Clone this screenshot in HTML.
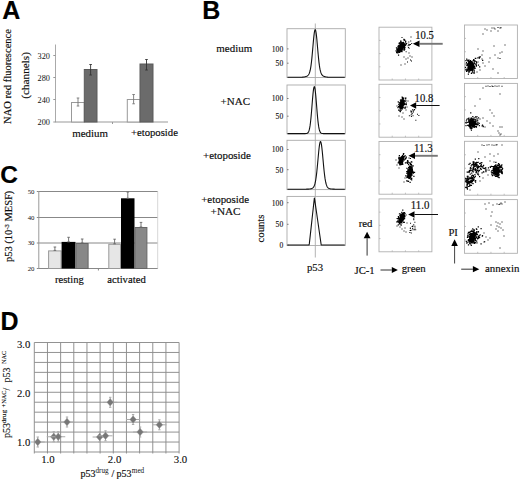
<!DOCTYPE html>
<html><head><meta charset="utf-8"><style>
html,body{margin:0;padding:0;background:#fff;}
body{width:520px;height:480px;overflow:hidden;font-family:"Liberation Serif",serif;}
svg{display:block;}
text{stroke:#000;stroke-width:0.16px;}
text.lb, tspan.lb{stroke:none;}
text.lb2{stroke-width:0.1px;}
</style></head><body>
<svg width="520" height="480" viewBox="0 0 520 480">
<defs><filter id="soft" x="-5%" y="-5%" width="110%" height="110%"><feGaussianBlur stdDeviation="0.3"/></filter></defs>
<rect width="520" height="480" fill="#fff"/>
<text x="2.2" y="18.8" font-size="25" font-family="Liberation Sans, sans-serif" font-weight="bold" text-anchor="start" fill="#000" >A</text>
<text transform="translate(10.7,123.9) rotate(-90)" font-size="10.55" font-family="Liberation Serif, serif" fill="#111">NAO red fluorescence</text>
<text transform="translate(28.8,75.4) rotate(-90)" font-size="11.2" font-family="Liberation Serif, serif" fill="#111" text-anchor="middle">(channels)</text>
<line x1="55.5" y1="44.5" x2="55.5" y2="122" stroke="#aaa" stroke-width="1"/>
<line x1="55" y1="122" x2="168" y2="122" stroke="#999" stroke-width="1"/>
<line x1="53.3" y1="55.5" x2="55.5" y2="55.5" stroke="#999" stroke-width="1"/>
<text x="50" y="58.5" font-size="8.3" font-family="Liberation Serif, serif" text-anchor="end" fill="#111" class="lb">320</text>
<line x1="53.3" y1="77.5" x2="55.5" y2="77.5" stroke="#999" stroke-width="1"/>
<text x="50" y="80.5" font-size="8.3" font-family="Liberation Serif, serif" text-anchor="end" fill="#111" class="lb">280</text>
<line x1="53.3" y1="99.5" x2="55.5" y2="99.5" stroke="#999" stroke-width="1"/>
<text x="50" y="102.5" font-size="8.3" font-family="Liberation Serif, serif" text-anchor="end" fill="#111" class="lb">240</text>
<line x1="53.3" y1="122" x2="55.5" y2="122" stroke="#999" stroke-width="1"/>
<text x="50" y="125" font-size="8.3" font-family="Liberation Serif, serif" text-anchor="end" fill="#111" class="lb">200</text>
<line x1="112.5" y1="122" x2="112.5" y2="124" stroke="#999" stroke-width="1"/>
<rect x="71.5" y="102.5" width="12.799999999999997" height="19.5" fill="#fff" stroke="#999" stroke-width="1"/>
<rect x="84.3" y="69.5" width="12.700000000000003" height="52.5" fill="#6b6b6b" stroke="#5a5a5a" stroke-width="1"/>
<rect x="127.3" y="99.5" width="12.700000000000003" height="22.5" fill="#fff" stroke="#999" stroke-width="1"/>
<rect x="140" y="64" width="13" height="58" fill="#6b6b6b" stroke="#5a5a5a" stroke-width="1"/>
<line x1="78" y1="98" x2="78" y2="106" stroke="#777" stroke-width="0.9"/>
<line x1="76.7" y1="98" x2="79.3" y2="98" stroke="#777" stroke-width="0.9"/>
<line x1="76.7" y1="106" x2="79.3" y2="106" stroke="#777" stroke-width="0.9"/>
<line x1="90.6" y1="64.5" x2="90.6" y2="75" stroke="#333" stroke-width="0.9"/>
<line x1="89.3" y1="64.5" x2="91.89999999999999" y2="64.5" stroke="#333" stroke-width="0.9"/>
<line x1="89.3" y1="75" x2="91.89999999999999" y2="75" stroke="#333" stroke-width="0.9"/>
<line x1="133.6" y1="94.5" x2="133.6" y2="103.8" stroke="#777" stroke-width="0.9"/>
<line x1="132.29999999999998" y1="94.5" x2="134.9" y2="94.5" stroke="#777" stroke-width="0.9"/>
<line x1="132.29999999999998" y1="103.8" x2="134.9" y2="103.8" stroke="#777" stroke-width="0.9"/>
<line x1="146.5" y1="59.5" x2="146.5" y2="70" stroke="#333" stroke-width="0.9"/>
<line x1="145.2" y1="59.5" x2="147.8" y2="59.5" stroke="#333" stroke-width="0.9"/>
<line x1="145.2" y1="70" x2="147.8" y2="70" stroke="#333" stroke-width="0.9"/>
<text x="72.3" y="137.2" font-size="10.9" font-family="Liberation Serif, serif" text-anchor="start" fill="#111" >medium</text>
<text x="130.9" y="136" font-size="10.7" font-family="Liberation Serif, serif" text-anchor="start" fill="#111" >+etoposide</text>
<text x="202.3" y="18.8" font-size="25" font-family="Liberation Sans, sans-serif" font-weight="bold" text-anchor="start" fill="#000" >B</text>
<text x="216.3" y="51.9" font-size="10.95" font-family="Liberation Serif, serif" text-anchor="start" fill="#111" >medium</text>
<text x="220.6" y="104.6" font-size="11" font-family="Liberation Serif, serif" text-anchor="start" fill="#111" >+NAC</text>
<text x="203" y="159.2" font-size="10.9" font-family="Liberation Serif, serif" text-anchor="start" fill="#111" >+etoposide</text>
<text x="201.2" y="203.3" font-size="10.9" font-family="Liberation Serif, serif" text-anchor="start" fill="#111" >+etoposide</text>
<text x="210.6" y="215.1" font-size="11.2" font-family="Liberation Serif, serif" text-anchor="start" fill="#111" >+NAC</text>
<line x1="315.3" y1="23.5" x2="315.3" y2="257.5" stroke="#aaa" stroke-width="0.9"/>
<rect x="287" y="28.7" width="58.3" height="48.8" fill="none" stroke="#aaa" stroke-width="0.9"/>
<rect x="287" y="85" width="58.3" height="48.80000000000001" fill="none" stroke="#aaa" stroke-width="0.9"/>
<rect x="287" y="140.3" width="58.3" height="49.29999999999998" fill="none" stroke="#aaa" stroke-width="0.9"/>
<rect x="287" y="196.4" width="58.3" height="49.099999999999994" fill="none" stroke="#aaa" stroke-width="0.9"/>
<text x="283.2" y="51.7" font-size="7.6" font-family="Liberation Serif, serif" text-anchor="end" fill="#111" class="lb2">100</text>
<line x1="287" y1="48.900000000000006" x2="288.6" y2="48.900000000000006" stroke="#666" stroke-width="0.8"/>
<text x="283.2" y="66.0" font-size="7.6" font-family="Liberation Serif, serif" text-anchor="end" fill="#111" class="lb2">50</text>
<line x1="287" y1="63.2" x2="288.6" y2="63.2" stroke="#666" stroke-width="0.8"/>
<text x="283.2" y="101.3" font-size="7.6" font-family="Liberation Serif, serif" text-anchor="end" fill="#111" class="lb2">100</text>
<line x1="287" y1="98.5" x2="288.6" y2="98.5" stroke="#666" stroke-width="0.8"/>
<text x="283.2" y="119.0" font-size="7.6" font-family="Liberation Serif, serif" text-anchor="end" fill="#111" class="lb2">50</text>
<line x1="287" y1="116.2" x2="288.6" y2="116.2" stroke="#666" stroke-width="0.8"/>
<text x="283.2" y="152.3" font-size="7.6" font-family="Liberation Serif, serif" text-anchor="end" fill="#111" class="lb2">100</text>
<line x1="287" y1="149.5" x2="288.6" y2="149.5" stroke="#666" stroke-width="0.8"/>
<text x="283.2" y="172.5" font-size="7.6" font-family="Liberation Serif, serif" text-anchor="end" fill="#111" class="lb2">50</text>
<line x1="287" y1="169.7" x2="288.6" y2="169.7" stroke="#666" stroke-width="0.8"/>
<text x="283.2" y="205.5" font-size="7.6" font-family="Liberation Serif, serif" text-anchor="end" fill="#111" class="lb2">100</text>
<line x1="287" y1="202.7" x2="288.6" y2="202.7" stroke="#666" stroke-width="0.8"/>
<text x="283.2" y="227.1" font-size="7.6" font-family="Liberation Serif, serif" text-anchor="end" fill="#111" class="lb2">50</text>
<line x1="287" y1="224.29999999999998" x2="288.6" y2="224.29999999999998" stroke="#666" stroke-width="0.8"/>
<text x="283.2" y="247.9" font-size="7.6" font-family="Liberation Serif, serif" text-anchor="end" fill="#111" class="lb2">0</text>
<line x1="287" y1="245.1" x2="288.6" y2="245.1" stroke="#666" stroke-width="0.8"/>
<polyline points="287.50,77.30 287.86,77.30 288.22,77.30 288.57,77.30 288.93,77.30 289.29,77.30 289.65,77.30 290.01,77.30 290.37,77.30 290.72,77.30 291.08,77.30 291.44,77.30 291.80,77.30 292.16,77.30 292.51,77.30 292.87,77.30 293.23,77.30 293.59,77.30 293.95,77.30 294.30,77.30 294.66,77.30 295.02,77.30 295.38,77.30 295.74,77.30 296.10,77.30 296.45,77.30 296.81,77.30 297.17,77.30 297.53,77.30 297.89,77.30 298.24,77.29 298.60,77.29 298.96,77.29 299.32,77.29 299.68,77.28 300.03,77.28 300.39,77.27 300.75,77.26 301.11,77.25 301.47,77.23 301.82,77.22 302.18,77.20 302.54,77.17 302.90,77.14 303.26,77.10 303.62,77.06 303.97,77.01 304.33,76.95 304.69,76.88 305.05,76.80 305.41,76.70 305.76,76.59 306.12,76.47 306.48,76.32 306.84,76.15 307.20,75.94 307.56,75.69 307.91,75.39 308.27,75.01 308.63,74.53 308.99,73.91 309.35,73.11 309.70,72.08 310.06,70.77 310.42,69.12 310.78,67.08 311.14,64.61 311.49,61.70 311.85,58.35 312.21,54.63 312.57,50.62 312.93,46.48 313.29,42.37 313.64,38.51 314.00,35.12 314.36,32.41 314.72,30.54 315.08,29.66 315.43,29.82 315.79,31.01 316.15,33.15 316.51,36.10 316.87,39.65 317.22,43.61 317.58,47.75 317.94,51.87 318.30,55.80 318.66,59.42 319.01,62.64 319.37,65.41 319.73,67.75 320.09,69.66 320.45,71.20 320.81,72.42 321.16,73.37 321.52,74.11 321.88,74.69 322.24,75.14 322.60,75.49 322.95,75.77 323.31,76.01 323.67,76.20 324.03,76.37 324.39,76.51 324.75,76.63 325.10,76.73 325.46,76.82 325.82,76.90 326.18,76.97 326.54,77.02 326.89,77.07 327.25,77.11 327.61,77.15 327.97,77.18 328.33,77.20 328.68,77.22 329.04,77.24 329.40,77.25 329.76,77.26 330.12,77.27 330.48,77.28 330.83,77.28 331.19,77.29 331.55,77.29 331.91,77.29 332.27,77.29 332.62,77.30 332.98,77.30 333.34,77.30 333.70,77.30 334.06,77.30 334.41,77.30 334.77,77.30 335.13,77.30 335.49,77.30 335.85,77.30 336.20,77.30 336.56,77.30 336.92,77.30 337.28,77.30 337.64,77.30 338.00,77.30 338.35,77.30 338.71,77.30 339.07,77.30 339.43,77.30 339.79,77.30 340.14,77.30 340.50,77.30 340.86,77.30 341.22,77.30 341.58,77.30 341.94,77.30 342.29,77.30 342.65,77.30 343.01,77.30 343.37,77.30 343.73,77.30 344.08,77.30 344.44,77.30 344.80,77.30" fill="none" stroke="#111" stroke-width="1.1" stroke-linejoin="round"/>
<polyline points="287.50,133.60 287.86,133.60 288.22,133.60 288.57,133.60 288.93,133.60 289.29,133.60 289.65,133.60 290.01,133.60 290.37,133.60 290.72,133.60 291.08,133.60 291.44,133.60 291.80,133.60 292.16,133.60 292.51,133.60 292.87,133.60 293.23,133.60 293.59,133.60 293.95,133.60 294.30,133.60 294.66,133.60 295.02,133.60 295.38,133.60 295.74,133.60 296.10,133.60 296.45,133.60 296.81,133.60 297.17,133.60 297.53,133.60 297.89,133.60 298.24,133.60 298.60,133.60 298.96,133.60 299.32,133.60 299.68,133.60 300.03,133.60 300.39,133.60 300.75,133.60 301.11,133.60 301.47,133.60 301.82,133.60 302.18,133.60 302.54,133.60 302.90,133.60 303.26,133.60 303.62,133.60 303.97,133.60 304.33,133.60 304.69,133.59 305.05,133.59 305.41,133.58 305.76,133.56 306.12,133.54 306.48,133.49 306.84,133.41 307.20,133.28 307.56,133.07 307.91,132.76 308.27,132.30 308.63,131.64 308.99,130.71 309.35,129.44 309.70,127.77 310.06,125.63 310.42,122.97 310.78,119.79 311.14,116.11 311.49,112.00 311.85,107.59 312.21,103.06 312.57,98.64 312.93,94.59 313.29,91.15 313.64,88.56 314.00,87.01 314.36,86.62 314.72,87.40 315.08,89.31 315.43,92.20 315.79,95.87 316.15,100.08 316.51,104.56 316.87,109.07 317.22,113.40 317.58,117.38 317.94,120.91 318.30,123.91 318.66,126.39 319.01,128.37 319.37,129.90 319.73,131.05 320.09,131.88 320.45,132.48 320.81,132.88 321.16,133.15 321.52,133.33 321.88,133.44 322.24,133.51 322.60,133.55 322.95,133.57 323.31,133.58 323.67,133.59 324.03,133.60 324.39,133.60 324.75,133.60 325.10,133.60 325.46,133.60 325.82,133.60 326.18,133.60 326.54,133.60 326.89,133.60 327.25,133.60 327.61,133.60 327.97,133.60 328.33,133.60 328.68,133.60 329.04,133.60 329.40,133.60 329.76,133.60 330.12,133.60 330.48,133.60 330.83,133.60 331.19,133.60 331.55,133.60 331.91,133.60 332.27,133.60 332.62,133.60 332.98,133.60 333.34,133.60 333.70,133.60 334.06,133.60 334.41,133.60 334.77,133.60 335.13,133.60 335.49,133.60 335.85,133.60 336.20,133.60 336.56,133.60 336.92,133.60 337.28,133.60 337.64,133.60 338.00,133.60 338.35,133.60 338.71,133.60 339.07,133.60 339.43,133.60 339.79,133.60 340.14,133.60 340.50,133.60 340.86,133.60 341.22,133.60 341.58,133.60 341.94,133.60 342.29,133.60 342.65,133.60 343.01,133.60 343.37,133.60 343.73,133.60 344.08,133.60 344.44,133.60 344.80,133.60" fill="none" stroke="#111" stroke-width="1.1" stroke-linejoin="round"/>
<polyline points="287.50,189.20 287.86,189.20 288.22,189.20 288.57,189.20 288.93,189.20 289.29,189.20 289.65,189.20 290.01,189.20 290.37,189.20 290.72,189.20 291.08,189.20 291.44,189.20 291.80,189.20 292.16,189.20 292.51,189.20 292.87,189.20 293.23,189.20 293.59,189.20 293.95,189.20 294.30,189.20 294.66,189.20 295.02,189.20 295.38,189.20 295.74,189.20 296.10,189.20 296.45,189.20 296.81,189.20 297.17,189.20 297.53,189.20 297.89,189.20 298.24,189.20 298.60,189.20 298.96,189.20 299.32,189.20 299.68,189.20 300.03,189.20 300.39,189.20 300.75,189.20 301.11,189.20 301.47,189.20 301.82,189.20 302.18,189.20 302.54,189.20 302.90,189.20 303.26,189.20 303.62,189.20 303.97,189.20 304.33,189.19 304.69,189.19 305.05,189.19 305.41,189.19 305.76,189.18 306.12,189.18 306.48,189.17 306.84,189.16 307.20,189.15 307.56,189.14 307.91,189.12 308.27,189.10 308.63,189.08 308.99,189.05 309.35,189.02 309.70,188.98 310.06,188.93 310.42,188.88 310.78,188.81 311.14,188.72 311.49,188.62 311.85,188.49 312.21,188.32 312.57,188.11 312.93,187.83 313.29,187.46 313.64,186.98 314.00,186.36 314.36,185.55 314.72,184.50 315.08,183.19 315.43,181.54 315.79,179.54 316.15,177.15 316.51,174.36 316.87,171.19 317.22,167.67 317.58,163.90 317.94,159.97 318.30,156.03 318.66,152.25 319.01,148.80 319.37,145.86 319.73,143.58 320.09,142.10 320.45,141.51 320.81,141.84 321.16,143.06 321.52,145.11 321.88,147.88 322.24,151.20 322.60,154.90 322.95,158.81 323.31,162.75 323.67,166.59 324.03,170.19 324.39,173.47 324.75,176.37 325.10,178.88 325.46,181.00 325.82,182.74 326.18,184.15 326.54,185.27 326.89,186.14 327.25,186.82 327.61,187.34 327.97,187.73 328.33,188.03 328.68,188.26 329.04,188.44 329.40,188.58 329.76,188.69 330.12,188.78 330.48,188.86 330.83,188.92 331.19,188.97 331.55,189.01 331.91,189.05 332.27,189.07 332.62,189.10 332.98,189.12 333.34,189.13 333.70,189.15 334.06,189.16 334.41,189.17 334.77,189.18 335.13,189.18 335.49,189.19 335.85,189.19 336.20,189.19 336.56,189.19 336.92,189.20 337.28,189.20 337.64,189.20 338.00,189.20 338.35,189.20 338.71,189.20 339.07,189.20 339.43,189.20 339.79,189.20 340.14,189.20 340.50,189.20 340.86,189.20 341.22,189.20 341.58,189.20 341.94,189.20 342.29,189.20 342.65,189.20 343.01,189.20 343.37,189.20 343.73,189.20 344.08,189.20 344.44,189.20 344.80,189.20" fill="none" stroke="#111" stroke-width="1.1" stroke-linejoin="round"/>
<polyline points="287.50,245.00 287.86,245.00 288.22,245.00 288.57,245.00 288.93,245.00 289.29,245.00 289.65,245.00 290.01,245.00 290.37,245.00 290.72,245.00 291.08,245.00 291.44,245.00 291.80,245.00 292.16,245.00 292.51,245.00 292.87,245.00 293.23,245.00 293.59,245.00 293.95,245.00 294.30,245.00 294.66,245.00 295.02,245.00 295.38,245.00 295.74,245.00 296.10,245.00 296.45,245.00 296.81,245.00 297.17,245.00 297.53,245.00 297.89,245.00 298.24,245.00 298.60,245.00 298.96,245.00 299.32,245.00 299.68,245.00 300.03,245.00 300.39,245.00 300.75,245.00 301.11,245.00 301.47,245.00 301.82,245.00 302.18,245.00 302.54,245.00 302.90,245.00 303.26,245.00 303.62,245.00 303.97,245.00 304.33,245.00 304.69,245.00 305.05,245.00 305.41,245.00 305.76,245.00 306.12,245.00 306.48,245.00 306.84,245.00 307.20,245.00 307.56,245.00 307.91,245.00 308.27,245.00 308.63,245.00 308.99,245.00 309.35,243.67 309.70,240.41 310.06,237.14 310.42,233.88 310.78,230.61 311.14,227.35 311.49,224.09 311.85,220.82 312.21,217.56 312.57,214.29 312.93,211.03 313.29,207.76 313.64,204.50 314.00,201.23 314.36,197.97 314.72,199.81 315.08,202.31 315.43,204.81 315.79,207.30 316.15,209.80 316.51,212.29 316.87,214.79 317.22,217.29 317.58,219.78 317.94,222.28 318.30,224.78 318.66,227.27 319.01,229.77 319.37,232.27 319.73,234.76 320.09,237.26 320.45,239.75 320.81,242.25 321.16,244.75 321.52,245.00 321.88,245.00 322.24,245.00 322.60,245.00 322.95,245.00 323.31,245.00 323.67,245.00 324.03,245.00 324.39,245.00 324.75,245.00 325.10,245.00 325.46,245.00 325.82,245.00 326.18,245.00 326.54,245.00 326.89,245.00 327.25,245.00 327.61,245.00 327.97,245.00 328.33,245.00 328.68,245.00 329.04,245.00 329.40,245.00 329.76,245.00 330.12,245.00 330.48,245.00 330.83,245.00 331.19,245.00 331.55,245.00 331.91,245.00 332.27,245.00 332.62,245.00 332.98,245.00 333.34,245.00 333.70,245.00 334.06,245.00 334.41,245.00 334.77,245.00 335.13,245.00 335.49,245.00 335.85,245.00 336.20,245.00 336.56,245.00 336.92,245.00 337.28,245.00 337.64,245.00 338.00,245.00 338.35,245.00 338.71,245.00 339.07,245.00 339.43,245.00 339.79,245.00 340.14,245.00 340.50,245.00 340.86,245.00 341.22,245.00 341.58,245.00 341.94,245.00 342.29,245.00 342.65,245.00 343.01,245.00 343.37,245.00 343.73,245.00 344.08,245.00 344.44,245.00 344.80,245.00" fill="none" stroke="#111" stroke-width="1.1" stroke-linejoin="round"/>
<text transform="translate(264,228.5) rotate(-90)" font-size="10.7" font-family="Liberation Serif, serif" fill="#111" text-anchor="middle">counts</text>
<text x="307" y="271.3" font-size="10.7" font-family="Liberation Serif, serif" text-anchor="start" fill="#111" >p53</text>
<rect x="379" y="27.2" width="52.9" height="52.8" fill="none" stroke="#b0b0b0" stroke-width="0.9"/>
<line x1="379" y1="40.4" x2="380.5" y2="40.4" stroke="#aaa" stroke-width="0.7"/>
<line x1="392.225" y1="80" x2="392.225" y2="78.5" stroke="#aaa" stroke-width="0.7"/>
<line x1="379" y1="53.599999999999994" x2="380.5" y2="53.599999999999994" stroke="#aaa" stroke-width="0.7"/>
<line x1="405.45" y1="80" x2="405.45" y2="78.5" stroke="#aaa" stroke-width="0.7"/>
<line x1="379" y1="66.8" x2="380.5" y2="66.8" stroke="#aaa" stroke-width="0.7"/>
<line x1="418.675" y1="80" x2="418.675" y2="78.5" stroke="#aaa" stroke-width="0.7"/>
<rect x="379" y="84.3" width="52.9" height="52.89999999999999" fill="none" stroke="#b0b0b0" stroke-width="0.9"/>
<line x1="379" y1="97.52499999999999" x2="380.5" y2="97.52499999999999" stroke="#aaa" stroke-width="0.7"/>
<line x1="392.225" y1="137.2" x2="392.225" y2="135.7" stroke="#aaa" stroke-width="0.7"/>
<line x1="379" y1="110.75" x2="380.5" y2="110.75" stroke="#aaa" stroke-width="0.7"/>
<line x1="405.45" y1="137.2" x2="405.45" y2="135.7" stroke="#aaa" stroke-width="0.7"/>
<line x1="379" y1="123.975" x2="380.5" y2="123.975" stroke="#aaa" stroke-width="0.7"/>
<line x1="418.675" y1="137.2" x2="418.675" y2="135.7" stroke="#aaa" stroke-width="0.7"/>
<rect x="379" y="141.5" width="52.9" height="52.69999999999999" fill="none" stroke="#b0b0b0" stroke-width="0.9"/>
<line x1="379" y1="154.675" x2="380.5" y2="154.675" stroke="#aaa" stroke-width="0.7"/>
<line x1="392.225" y1="194.2" x2="392.225" y2="192.7" stroke="#aaa" stroke-width="0.7"/>
<line x1="379" y1="167.85" x2="380.5" y2="167.85" stroke="#aaa" stroke-width="0.7"/>
<line x1="405.45" y1="194.2" x2="405.45" y2="192.7" stroke="#aaa" stroke-width="0.7"/>
<line x1="379" y1="181.02499999999998" x2="380.5" y2="181.02499999999998" stroke="#aaa" stroke-width="0.7"/>
<line x1="418.675" y1="194.2" x2="418.675" y2="192.7" stroke="#aaa" stroke-width="0.7"/>
<rect x="379" y="198.9" width="52.9" height="52.900000000000006" fill="none" stroke="#b0b0b0" stroke-width="0.9"/>
<line x1="379" y1="212.125" x2="380.5" y2="212.125" stroke="#aaa" stroke-width="0.7"/>
<line x1="392.225" y1="251.8" x2="392.225" y2="250.3" stroke="#aaa" stroke-width="0.7"/>
<line x1="379" y1="225.35000000000002" x2="380.5" y2="225.35000000000002" stroke="#aaa" stroke-width="0.7"/>
<line x1="405.45" y1="251.8" x2="405.45" y2="250.3" stroke="#aaa" stroke-width="0.7"/>
<line x1="379" y1="238.57500000000002" x2="380.5" y2="238.57500000000002" stroke="#aaa" stroke-width="0.7"/>
<line x1="418.675" y1="251.8" x2="418.675" y2="250.3" stroke="#aaa" stroke-width="0.7"/>
<text x="415.3" y="39.3" font-size="11.7" font-family="Liberation Serif, serif" text-anchor="start" fill="#111" textLength="18.6" lengthAdjust="spacingAndGlyphs">10.5</text>
<text x="414.6" y="101.7" font-size="11.7" font-family="Liberation Serif, serif" text-anchor="start" fill="#111" textLength="18.6" lengthAdjust="spacingAndGlyphs">10.8</text>
<text x="414.0" y="151.5" font-size="11.7" font-family="Liberation Serif, serif" text-anchor="start" fill="#111" textLength="18.6" lengthAdjust="spacingAndGlyphs">11.3</text>
<text x="410.8" y="208.7" font-size="11.7" font-family="Liberation Serif, serif" text-anchor="start" fill="#111" textLength="18.6" lengthAdjust="spacingAndGlyphs">11.0</text>
<line x1="442.7" y1="43.8" x2="419.5" y2="43.8" stroke="#777" stroke-width="1.9"/>
<polygon points="412.8,43.8 419.5,40.5 419.5,47.099999999999994" fill="#000"/>
<line x1="439.6" y1="105.5" x2="416.2" y2="105.5" stroke="#111" stroke-width="1"/>
<polygon points="410,105.5 416.2,102.2 416.2,108.8" fill="#000"/>
<line x1="437.8" y1="155.8" x2="415" y2="155.8" stroke="#777" stroke-width="1.9"/>
<polygon points="408.5,155.8 415,152.5 415,159.10000000000002" fill="#000"/>
<line x1="438" y1="214.5" x2="414.5" y2="214.5" stroke="#111" stroke-width="1"/>
<polygon points="408.2,214.5 414.5,211.2 414.5,217.8" fill="#000"/>
<rect x="464.5" y="25" width="52.9" height="53.5" fill="none" stroke="#b0b0b0" stroke-width="0.9"/>
<line x1="464.5" y1="38.375" x2="466" y2="38.375" stroke="#aaa" stroke-width="0.7"/>
<line x1="477.725" y1="78.5" x2="477.725" y2="77.0" stroke="#aaa" stroke-width="0.7"/>
<line x1="464.5" y1="51.75" x2="466" y2="51.75" stroke="#aaa" stroke-width="0.7"/>
<line x1="490.95" y1="78.5" x2="490.95" y2="77.0" stroke="#aaa" stroke-width="0.7"/>
<line x1="464.5" y1="65.125" x2="466" y2="65.125" stroke="#aaa" stroke-width="0.7"/>
<line x1="504.175" y1="78.5" x2="504.175" y2="77.0" stroke="#aaa" stroke-width="0.7"/>
<rect x="464.5" y="83.4" width="52.9" height="53.0" fill="none" stroke="#b0b0b0" stroke-width="0.9"/>
<line x1="464.5" y1="96.65" x2="466" y2="96.65" stroke="#aaa" stroke-width="0.7"/>
<line x1="477.725" y1="136.4" x2="477.725" y2="134.9" stroke="#aaa" stroke-width="0.7"/>
<line x1="464.5" y1="109.9" x2="466" y2="109.9" stroke="#aaa" stroke-width="0.7"/>
<line x1="490.95" y1="136.4" x2="490.95" y2="134.9" stroke="#aaa" stroke-width="0.7"/>
<line x1="464.5" y1="123.15" x2="466" y2="123.15" stroke="#aaa" stroke-width="0.7"/>
<line x1="504.175" y1="136.4" x2="504.175" y2="134.9" stroke="#aaa" stroke-width="0.7"/>
<rect x="464.5" y="141.3" width="52.9" height="53.89999999999998" fill="none" stroke="#b0b0b0" stroke-width="0.9"/>
<line x1="464.5" y1="154.775" x2="466" y2="154.775" stroke="#aaa" stroke-width="0.7"/>
<line x1="477.725" y1="195.2" x2="477.725" y2="193.7" stroke="#aaa" stroke-width="0.7"/>
<line x1="464.5" y1="168.25" x2="466" y2="168.25" stroke="#aaa" stroke-width="0.7"/>
<line x1="490.95" y1="195.2" x2="490.95" y2="193.7" stroke="#aaa" stroke-width="0.7"/>
<line x1="464.5" y1="181.725" x2="466" y2="181.725" stroke="#aaa" stroke-width="0.7"/>
<line x1="504.175" y1="195.2" x2="504.175" y2="193.7" stroke="#aaa" stroke-width="0.7"/>
<rect x="464.5" y="199.6" width="52.9" height="53.70000000000002" fill="none" stroke="#b0b0b0" stroke-width="0.9"/>
<line x1="464.5" y1="213.025" x2="466" y2="213.025" stroke="#aaa" stroke-width="0.7"/>
<line x1="477.725" y1="253.3" x2="477.725" y2="251.8" stroke="#aaa" stroke-width="0.7"/>
<line x1="464.5" y1="226.45" x2="466" y2="226.45" stroke="#aaa" stroke-width="0.7"/>
<line x1="490.95" y1="253.3" x2="490.95" y2="251.8" stroke="#aaa" stroke-width="0.7"/>
<line x1="464.5" y1="239.875" x2="466" y2="239.875" stroke="#aaa" stroke-width="0.7"/>
<line x1="504.175" y1="253.3" x2="504.175" y2="251.8" stroke="#aaa" stroke-width="0.7"/>
<text x="358.7" y="227.1" font-size="10.8" font-family="Liberation Serif, serif" text-anchor="start" fill="#111" >red</text>
<line x1="367.1" y1="255.6" x2="367.1" y2="238.2" stroke="#333" stroke-width="1"/>
<polygon points="367.1,231.8 363.70000000000005,238.2 370.5,238.2" fill="#000"/>
<text x="354.5" y="273.6" font-size="10.7" font-family="Liberation Serif, serif" text-anchor="start" fill="#111" >JC-1</text>
<line x1="380.5" y1="270" x2="391.8" y2="270" stroke="#333" stroke-width="1"/>
<polygon points="397.9,270 391.8,267.0 391.8,273.0" fill="#000"/>
<text x="401.7" y="272.4" font-size="10.8" font-family="Liberation Serif, serif" text-anchor="start" fill="#111" >green</text>
<text x="448.4" y="236" font-size="10.7" font-family="Liberation Serif, serif" text-anchor="start" fill="#111" >PI</text>
<line x1="454.6" y1="263.5" x2="454.6" y2="245.9" stroke="#444" stroke-width="1"/>
<polygon points="454.6,239.2 451.3,245.9 457.90000000000003,245.9" fill="#000"/>
<line x1="461.2" y1="269.2" x2="472.9" y2="269.2" stroke="#444" stroke-width="1.1"/>
<polygon points="479.3,269.2 472.9,266.09999999999997 472.9,272.3" fill="#000"/>
<text x="485" y="271.6" font-size="10.9" font-family="Liberation Serif, serif" text-anchor="start" fill="#111" >annexin</text>
<g filter="url(#soft)">
<ellipse cx="401" cy="47.2" rx="2.4" ry="5.8" transform="rotate(28 401 47.2)" fill="#000"/>
<path d="M397.73 46.67h1.20v1.20h-1.20zM402.91 45.90h1.20v1.20h-1.20zM398.28 45.21h1.20v1.20h-1.20zM399.40 50.42h1.20v1.20h-1.20zM400.48 41.52h1.20v1.20h-1.20zM400.81 48.69h1.20v1.20h-1.20zM401.36 51.00h1.20v1.20h-1.20zM400.68 45.66h1.20v1.20h-1.20zM400.95 42.38h1.20v1.20h-1.20zM400.32 47.13h1.20v1.20h-1.20zM399.92 46.10h1.20v1.20h-1.20zM399.72 48.98h1.20v1.20h-1.20zM401.90 48.23h1.20v1.20h-1.20zM396.24 47.17h1.20v1.20h-1.20zM398.30 44.80h1.20v1.20h-1.20zM397.92 45.29h1.20v1.20h-1.20zM398.74 46.57h1.20v1.20h-1.20zM403.99 43.26h1.20v1.20h-1.20zM398.83 48.39h1.20v1.20h-1.20zM399.64 47.66h1.20v1.20h-1.20zM402.23 43.58h1.20v1.20h-1.20zM402.68 44.59h1.20v1.20h-1.20zM404.37 46.71h1.20v1.20h-1.20zM401.55 47.22h1.20v1.20h-1.20zM402.99 45.59h1.20v1.20h-1.20zM402.28 47.11h1.20v1.20h-1.20zM401.49 49.66h1.20v1.20h-1.20zM401.92 44.31h1.20v1.20h-1.20zM400.92 48.73h1.20v1.20h-1.20zM403.77 46.90h1.20v1.20h-1.20zM400.50 48.66h1.20v1.20h-1.20zM400.53 47.50h1.20v1.20h-1.20zM401.69 44.91h1.20v1.20h-1.20zM399.35 44.47h1.20v1.20h-1.20zM398.91 51.80h1.20v1.20h-1.20zM400.31 50.73h1.20v1.20h-1.20zM400.56 49.45h1.20v1.20h-1.20zM399.44 49.15h1.20v1.20h-1.20zM403.91 47.17h1.20v1.20h-1.20zM396.02 52.04h1.20v1.20h-1.20zM399.22 49.82h1.20v1.20h-1.20zM403.73 43.87h1.20v1.20h-1.20zM399.46 49.08h1.20v1.20h-1.20zM402.07 43.98h1.20v1.20h-1.20zM399.60 47.66h1.20v1.20h-1.20zM401.11 49.79h1.20v1.20h-1.20zM398.27 50.84h1.20v1.20h-1.20zM397.82 48.37h1.20v1.20h-1.20zM402.75 46.69h1.20v1.20h-1.20zM398.89 42.20h1.20v1.20h-1.20zM399.93 48.44h1.20v1.20h-1.20zM404.65 44.88h1.20v1.20h-1.20zM399.34 48.61h1.20v1.20h-1.20zM404.03 39.14h1.20v1.20h-1.20zM397.95 54.46h1.20v1.20h-1.20zM403.59 44.66h1.20v1.20h-1.20zM399.34 46.92h1.20v1.20h-1.20zM398.03 51.51h1.20v1.20h-1.20zM397.20 52.28h1.20v1.20h-1.20zM400.03 44.52h1.20v1.20h-1.20zM399.27 51.64h1.20v1.20h-1.20zM401.00 48.12h1.20v1.20h-1.20zM398.52 42.77h1.20v1.20h-1.20zM400.25 44.41h1.20v1.20h-1.20zM401.93 46.09h1.20v1.20h-1.20zM401.59 47.56h1.20v1.20h-1.20zM399.65 46.67h1.20v1.20h-1.20zM399.71 49.63h1.20v1.20h-1.20zM399.98 45.45h1.20v1.20h-1.20zM395.48 50.34h1.20v1.20h-1.20zM403.13 47.34h1.20v1.20h-1.20zM401.63 42.35h1.20v1.20h-1.20zM400.35 47.39h1.20v1.20h-1.20zM403.66 49.31h1.20v1.20h-1.20zM402.45 48.44h1.20v1.20h-1.20zM397.40 45.72h1.20v1.20h-1.20zM401.34 49.37h1.20v1.20h-1.20zM403.62 39.83h1.20v1.20h-1.20zM402.74 41.68h1.20v1.20h-1.20zM404.91 40.52h1.20v1.20h-1.20zM396.87 49.56h1.20v1.20h-1.20zM405.10 44.42h1.20v1.20h-1.20zM396.38 47.95h1.20v1.20h-1.20zM403.45 44.31h1.20v1.20h-1.20zM400.38 43.84h1.20v1.20h-1.20zM399.52 43.44h1.20v1.20h-1.20zM401.37 49.85h1.20v1.20h-1.20zM403.99 48.17h1.20v1.20h-1.20zM401.79 43.44h1.20v1.20h-1.20zM402.35 42.43h1.20v1.20h-1.20zM396.27 47.17h1.20v1.20h-1.20zM401.44 50.47h1.20v1.20h-1.20zM402.22 48.57h1.20v1.20h-1.20zM399.05 46.23h1.20v1.20h-1.20zM401.60 42.83h1.20v1.20h-1.20zM400.00 40.51h1.20v1.20h-1.20zM400.14 47.06h1.20v1.20h-1.20zM397.26 50.59h1.20v1.20h-1.20zM399.74 48.56h1.20v1.20h-1.20zM403.79 45.15h1.20v1.20h-1.20zM395.86 47.17h1.20v1.20h-1.20zM397.09 50.04h1.20v1.20h-1.20zM399.31 50.01h1.20v1.20h-1.20zM405.10 40.85h1.20v1.20h-1.20zM402.71 45.16h1.20v1.20h-1.20zM399.85 44.58h1.20v1.20h-1.20zM400.24 50.02h1.20v1.20h-1.20zM404.82 42.37h1.20v1.20h-1.20zM403.31 38.73h1.20v1.20h-1.20zM399.24 48.36h1.20v1.20h-1.20zM398.72 46.68h1.20v1.20h-1.20zM399.13 49.92h1.20v1.20h-1.20zM400.38 43.31h1.20v1.20h-1.20zM396.24 51.34h1.20v1.20h-1.20zM402.43 47.19h1.20v1.20h-1.20zM400.59 47.15h1.20v1.20h-1.20zM401.08 46.14h1.20v1.20h-1.20zM401.90 42.42h1.20v1.20h-1.20zM396.61 51.13h1.20v1.20h-1.20zM401.19 47.28h1.20v1.20h-1.20zM399.94 46.60h1.20v1.20h-1.20zM402.05 44.92h1.20v1.20h-1.20zM400.34 47.52h1.20v1.20h-1.20zM400.44 43.49h1.20v1.20h-1.20zM400.47 42.42h1.20v1.20h-1.20zM400.96 44.47h1.20v1.20h-1.20zM399.20 46.35h1.20v1.20h-1.20zM402.17 47.84h1.20v1.20h-1.20zM401.17 44.58h1.20v1.20h-1.20zM398.68 49.30h1.20v1.20h-1.20zM401.62 42.71h1.20v1.20h-1.20zM400.10 42.05h1.20v1.20h-1.20zM396.26 48.76h1.20v1.20h-1.20zM401.39 46.18h1.20v1.20h-1.20zM403.93 45.87h1.20v1.20h-1.20zM400.35 49.75h1.20v1.20h-1.20zM400.36 40.41h1.20v1.20h-1.20zM397.35 48.57h1.20v1.20h-1.20zM404.59 43.96h1.20v1.20h-1.20zM402.79 46.35h1.20v1.20h-1.20z" fill="#000"/>
<path d="M408.21 43.71h1.00v1.00h-1.00zM410.22 40.48h1.00v1.00h-1.00zM408.29 41.39h1.00v1.00h-1.00zM405.63 51.37h1.00v1.00h-1.00zM405.93 42.89h1.00v1.00h-1.00zM403.56 49.81h1.00v1.00h-1.00zM409.98 44.12h1.00v1.00h-1.00zM408.65 47.73h1.00v1.00h-1.00zM406.26 42.66h1.00v1.00h-1.00zM407.60 45.33h1.00v1.00h-1.00zM408.71 44.74h1.00v1.00h-1.00zM409.18 44.15h1.00v1.00h-1.00zM404.33 48.63h1.00v1.00h-1.00zM407.90 46.96h1.00v1.00h-1.00zM405.76 43.63h1.00v1.00h-1.00zM411.21 42.88h1.00v1.00h-1.00z" fill="#000"/>
<path d="M410.50 36.50h1.00v1.00h-1.00zM401.50 37.00h1.00v1.00h-1.00zM396.50 50.50h1.00v1.00h-1.00zM409.50 55.50h1.00v1.00h-1.00zM407.50 57.50h1.00v1.00h-1.00zM410.00 59.50h1.00v1.00h-1.00zM407.00 61.50h1.00v1.00h-1.00zM411.00 60.50h1.00v1.00h-1.00zM404.50 63.50h1.00v1.00h-1.00zM400.50 64.50h1.00v1.00h-1.00zM403.50 56.50h1.00v1.00h-1.00zM408.50 52.50h1.00v1.00h-1.00zM411.50 56.50h1.00v1.00h-1.00zM405.50 58.50h1.00v1.00h-1.00z" fill="#000"/>
<ellipse cx="402" cy="104" rx="2.3" ry="5.2" transform="rotate(15 402 104)" fill="#000"/>
<path d="M403.64 102.67h1.20v1.20h-1.20zM402.21 103.16h1.20v1.20h-1.20zM400.75 107.34h1.20v1.20h-1.20zM399.36 108.20h1.20v1.20h-1.20zM400.84 100.07h1.20v1.20h-1.20zM403.55 100.33h1.20v1.20h-1.20zM399.98 106.12h1.20v1.20h-1.20zM405.02 98.31h1.20v1.20h-1.20zM400.67 109.64h1.20v1.20h-1.20zM403.68 103.19h1.20v1.20h-1.20zM400.61 102.17h1.20v1.20h-1.20zM399.62 102.02h1.20v1.20h-1.20zM401.20 102.85h1.20v1.20h-1.20zM403.65 103.22h1.20v1.20h-1.20zM397.97 106.07h1.20v1.20h-1.20zM399.92 101.47h1.20v1.20h-1.20zM401.46 102.24h1.20v1.20h-1.20zM399.87 102.14h1.20v1.20h-1.20zM405.72 102.48h1.20v1.20h-1.20zM400.20 106.92h1.20v1.20h-1.20zM402.04 106.18h1.20v1.20h-1.20zM404.58 97.53h1.20v1.20h-1.20zM399.79 103.41h1.20v1.20h-1.20zM401.16 107.76h1.20v1.20h-1.20zM402.42 102.86h1.20v1.20h-1.20zM401.65 102.75h1.20v1.20h-1.20zM401.25 105.66h1.20v1.20h-1.20zM401.50 100.65h1.20v1.20h-1.20zM398.98 106.50h1.20v1.20h-1.20zM402.78 107.16h1.20v1.20h-1.20zM402.18 106.46h1.20v1.20h-1.20zM400.83 105.51h1.20v1.20h-1.20zM399.74 102.26h1.20v1.20h-1.20zM399.50 105.38h1.20v1.20h-1.20zM400.48 102.79h1.20v1.20h-1.20zM400.94 107.90h1.20v1.20h-1.20zM400.82 100.04h1.20v1.20h-1.20zM403.77 100.25h1.20v1.20h-1.20zM402.67 101.79h1.20v1.20h-1.20zM402.77 97.55h1.20v1.20h-1.20zM403.07 102.14h1.20v1.20h-1.20zM398.06 109.60h1.20v1.20h-1.20zM402.41 102.48h1.20v1.20h-1.20zM400.21 108.57h1.20v1.20h-1.20zM400.97 104.82h1.20v1.20h-1.20zM403.08 100.74h1.20v1.20h-1.20zM402.05 101.86h1.20v1.20h-1.20zM398.49 105.60h1.20v1.20h-1.20zM402.49 103.95h1.20v1.20h-1.20zM401.54 96.58h1.20v1.20h-1.20zM402.33 103.31h1.20v1.20h-1.20zM398.52 102.42h1.20v1.20h-1.20zM398.78 102.61h1.20v1.20h-1.20zM401.35 104.60h1.20v1.20h-1.20zM401.63 104.05h1.20v1.20h-1.20zM399.75 101.65h1.20v1.20h-1.20zM400.71 102.41h1.20v1.20h-1.20zM401.34 105.50h1.20v1.20h-1.20zM402.27 102.95h1.20v1.20h-1.20zM404.56 107.44h1.20v1.20h-1.20zM398.18 103.91h1.20v1.20h-1.20zM399.65 106.32h1.20v1.20h-1.20zM399.65 102.58h1.20v1.20h-1.20zM401.25 103.03h1.20v1.20h-1.20zM401.95 97.27h1.20v1.20h-1.20zM401.35 106.80h1.20v1.20h-1.20zM402.15 100.13h1.20v1.20h-1.20zM401.27 105.30h1.20v1.20h-1.20zM401.11 103.27h1.20v1.20h-1.20zM404.80 100.49h1.20v1.20h-1.20zM402.06 97.07h1.20v1.20h-1.20zM400.81 100.72h1.20v1.20h-1.20zM400.32 100.74h1.20v1.20h-1.20zM404.69 103.61h1.20v1.20h-1.20zM399.32 110.35h1.20v1.20h-1.20zM402.78 97.84h1.20v1.20h-1.20zM402.90 100.60h1.20v1.20h-1.20zM405.31 100.19h1.20v1.20h-1.20zM401.76 98.01h1.20v1.20h-1.20zM402.44 100.21h1.20v1.20h-1.20zM401.61 102.17h1.20v1.20h-1.20zM399.53 106.12h1.20v1.20h-1.20zM402.97 104.03h1.20v1.20h-1.20zM400.75 99.57h1.20v1.20h-1.20zM399.83 111.15h1.20v1.20h-1.20zM401.28 100.69h1.20v1.20h-1.20zM401.12 99.58h1.20v1.20h-1.20zM399.88 102.29h1.20v1.20h-1.20zM403.89 104.06h1.20v1.20h-1.20zM401.89 98.01h1.20v1.20h-1.20zM401.79 103.41h1.20v1.20h-1.20zM400.20 99.36h1.20v1.20h-1.20zM400.46 106.61h1.20v1.20h-1.20zM402.31 104.35h1.20v1.20h-1.20zM400.56 104.27h1.20v1.20h-1.20zM399.52 110.32h1.20v1.20h-1.20zM399.75 101.70h1.20v1.20h-1.20zM403.83 103.14h1.20v1.20h-1.20zM403.91 103.92h1.20v1.20h-1.20zM401.97 102.29h1.20v1.20h-1.20zM399.83 99.66h1.20v1.20h-1.20zM404.70 106.49h1.20v1.20h-1.20zM401.64 106.72h1.20v1.20h-1.20zM401.52 106.92h1.20v1.20h-1.20zM401.13 102.56h1.20v1.20h-1.20zM403.41 102.74h1.20v1.20h-1.20zM399.28 102.06h1.20v1.20h-1.20zM399.93 105.10h1.20v1.20h-1.20zM401.05 99.68h1.20v1.20h-1.20zM399.50 108.20h1.20v1.20h-1.20zM401.18 103.89h1.20v1.20h-1.20zM401.16 104.35h1.20v1.20h-1.20zM401.82 108.28h1.20v1.20h-1.20zM397.38 106.97h1.20v1.20h-1.20zM401.67 102.38h1.20v1.20h-1.20zM405.71 103.98h1.20v1.20h-1.20zM403.95 107.39h1.20v1.20h-1.20zM399.19 104.48h1.20v1.20h-1.20zM402.79 103.34h1.20v1.20h-1.20zM397.65 101.22h1.20v1.20h-1.20z" fill="#000"/>
<path d="M412.78 109.78h1.00v1.00h-1.00zM416.98 113.85h1.00v1.00h-1.00zM411.77 112.71h1.00v1.00h-1.00zM411.16 110.77h1.00v1.00h-1.00zM412.52 115.21h1.00v1.00h-1.00zM411.36 113.45h1.00v1.00h-1.00zM408.87 115.37h1.00v1.00h-1.00zM410.59 114.49h1.00v1.00h-1.00zM410.70 111.69h1.00v1.00h-1.00zM413.81 109.56h1.00v1.00h-1.00zM418.36 114.89h1.00v1.00h-1.00zM412.81 111.22h1.00v1.00h-1.00zM415.35 119.85h1.00v1.00h-1.00zM414.11 109.00h1.00v1.00h-1.00zM410.90 116.09h1.00v1.00h-1.00zM412.07 109.36h1.00v1.00h-1.00zM410.20 110.62h1.00v1.00h-1.00zM412.96 111.58h1.00v1.00h-1.00z" fill="#000"/>
<path d="M396.50 105.50h1.00v1.00h-1.00zM399.50 110.50h1.00v1.00h-1.00zM402.50 112.50h1.00v1.00h-1.00zM405.50 109.50h1.00v1.00h-1.00zM398.50 115.50h1.00v1.00h-1.00zM401.50 116.50h1.00v1.00h-1.00zM403.50 118.50h1.00v1.00h-1.00zM406.50 106.50h1.00v1.00h-1.00zM407.50 100.50h1.00v1.00h-1.00zM405.50 97.50h1.00v1.00h-1.00z" fill="#000"/>
<ellipse cx="401.3" cy="160" rx="2.2" ry="4.5" transform="rotate(22 401.3 160)" fill="#000"/>
<ellipse cx="410" cy="172.5" rx="2.4" ry="6.8" transform="rotate(8 410 172.5)" fill="#000"/>
<path d="M404.83 157.71h1.20v1.20h-1.20zM401.18 159.87h1.20v1.20h-1.20zM399.30 162.21h1.20v1.20h-1.20zM400.51 158.27h1.20v1.20h-1.20zM400.19 158.87h1.20v1.20h-1.20zM401.97 162.43h1.20v1.20h-1.20zM398.96 157.27h1.20v1.20h-1.20zM398.45 161.13h1.20v1.20h-1.20zM400.08 162.03h1.20v1.20h-1.20zM402.74 154.05h1.20v1.20h-1.20zM401.20 160.34h1.20v1.20h-1.20zM403.01 156.12h1.20v1.20h-1.20zM401.61 157.54h1.20v1.20h-1.20zM399.16 159.92h1.20v1.20h-1.20zM402.29 157.16h1.20v1.20h-1.20zM398.48 162.13h1.20v1.20h-1.20zM403.14 153.10h1.20v1.20h-1.20zM398.79 159.99h1.20v1.20h-1.20zM402.18 163.78h1.20v1.20h-1.20zM401.09 160.20h1.20v1.20h-1.20zM399.44 157.43h1.20v1.20h-1.20zM401.01 157.02h1.20v1.20h-1.20zM401.25 158.35h1.20v1.20h-1.20zM399.65 163.62h1.20v1.20h-1.20zM401.47 161.06h1.20v1.20h-1.20zM402.01 155.01h1.20v1.20h-1.20zM399.90 160.83h1.20v1.20h-1.20zM397.61 162.21h1.20v1.20h-1.20zM399.73 160.21h1.20v1.20h-1.20zM401.56 155.69h1.20v1.20h-1.20zM405.46 157.56h1.20v1.20h-1.20zM402.86 158.47h1.20v1.20h-1.20zM402.07 157.35h1.20v1.20h-1.20zM398.97 161.68h1.20v1.20h-1.20zM404.90 158.36h1.20v1.20h-1.20zM399.65 162.04h1.20v1.20h-1.20zM398.85 160.95h1.20v1.20h-1.20zM398.71 160.55h1.20v1.20h-1.20zM400.07 163.07h1.20v1.20h-1.20zM402.65 156.33h1.20v1.20h-1.20zM403.05 156.78h1.20v1.20h-1.20zM400.26 164.11h1.20v1.20h-1.20zM402.32 158.26h1.20v1.20h-1.20zM402.50 160.67h1.20v1.20h-1.20zM399.02 157.57h1.20v1.20h-1.20zM403.41 159.51h1.20v1.20h-1.20zM401.29 158.53h1.20v1.20h-1.20zM398.46 156.84h1.20v1.20h-1.20zM401.06 160.22h1.20v1.20h-1.20zM402.81 153.35h1.20v1.20h-1.20zM401.93 162.23h1.20v1.20h-1.20zM400.95 163.71h1.20v1.20h-1.20zM400.64 157.42h1.20v1.20h-1.20zM399.34 164.27h1.20v1.20h-1.20zM398.15 157.62h1.20v1.20h-1.20zM398.88 160.47h1.20v1.20h-1.20zM403.48 159.56h1.20v1.20h-1.20zM398.57 158.70h1.20v1.20h-1.20zM401.96 154.92h1.20v1.20h-1.20zM402.77 158.54h1.20v1.20h-1.20zM403.32 156.20h1.20v1.20h-1.20zM404.15 156.13h1.20v1.20h-1.20zM404.49 155.07h1.20v1.20h-1.20zM403.42 159.29h1.20v1.20h-1.20zM398.37 157.70h1.20v1.20h-1.20zM402.38 156.87h1.20v1.20h-1.20zM399.57 159.82h1.20v1.20h-1.20zM399.50 160.30h1.20v1.20h-1.20zM400.06 162.41h1.20v1.20h-1.20zM401.68 160.81h1.20v1.20h-1.20zM401.44 162.79h1.20v1.20h-1.20zM401.57 157.74h1.20v1.20h-1.20zM401.93 161.27h1.20v1.20h-1.20zM398.78 155.05h1.20v1.20h-1.20zM401.36 160.02h1.20v1.20h-1.20zM400.45 161.37h1.20v1.20h-1.20zM399.16 163.90h1.20v1.20h-1.20zM400.17 157.89h1.20v1.20h-1.20zM400.40 161.69h1.20v1.20h-1.20zM400.34 164.07h1.20v1.20h-1.20z" fill="#000"/>
<path d="M407.80 176.74h1.20v1.20h-1.20zM410.90 167.58h1.20v1.20h-1.20zM407.89 180.74h1.20v1.20h-1.20zM411.16 170.11h1.20v1.20h-1.20zM408.03 172.04h1.20v1.20h-1.20zM413.30 175.69h1.20v1.20h-1.20zM410.55 168.00h1.20v1.20h-1.20zM407.29 170.70h1.20v1.20h-1.20zM409.01 169.17h1.20v1.20h-1.20zM411.48 172.53h1.20v1.20h-1.20zM406.31 177.06h1.20v1.20h-1.20zM409.61 166.16h1.20v1.20h-1.20zM409.71 174.06h1.20v1.20h-1.20zM408.35 174.78h1.20v1.20h-1.20zM411.47 168.36h1.20v1.20h-1.20zM408.42 177.10h1.20v1.20h-1.20zM410.45 178.09h1.20v1.20h-1.20zM412.88 172.46h1.20v1.20h-1.20zM412.30 165.67h1.20v1.20h-1.20zM410.46 173.75h1.20v1.20h-1.20zM409.49 169.99h1.20v1.20h-1.20zM407.22 172.20h1.20v1.20h-1.20zM412.02 170.68h1.20v1.20h-1.20zM410.80 169.21h1.20v1.20h-1.20zM410.48 167.68h1.20v1.20h-1.20zM410.24 171.07h1.20v1.20h-1.20zM410.36 169.40h1.20v1.20h-1.20zM407.38 170.19h1.20v1.20h-1.20zM410.41 178.90h1.20v1.20h-1.20zM408.31 175.22h1.20v1.20h-1.20zM410.59 173.77h1.20v1.20h-1.20zM406.29 172.87h1.20v1.20h-1.20zM406.87 176.65h1.20v1.20h-1.20zM410.51 174.74h1.20v1.20h-1.20zM411.48 166.64h1.20v1.20h-1.20zM411.18 172.48h1.20v1.20h-1.20zM409.48 168.81h1.20v1.20h-1.20zM407.74 169.78h1.20v1.20h-1.20zM410.18 169.20h1.20v1.20h-1.20zM408.57 169.39h1.20v1.20h-1.20zM407.21 175.39h1.20v1.20h-1.20zM408.37 175.52h1.20v1.20h-1.20zM406.67 175.55h1.20v1.20h-1.20zM408.95 174.73h1.20v1.20h-1.20zM409.74 168.09h1.20v1.20h-1.20zM411.94 170.37h1.20v1.20h-1.20zM409.65 168.09h1.20v1.20h-1.20zM410.02 170.29h1.20v1.20h-1.20zM409.72 173.44h1.20v1.20h-1.20zM408.95 165.71h1.20v1.20h-1.20zM409.67 175.92h1.20v1.20h-1.20zM411.40 167.21h1.20v1.20h-1.20zM410.31 173.70h1.20v1.20h-1.20zM409.68 173.80h1.20v1.20h-1.20zM408.66 172.73h1.20v1.20h-1.20zM411.45 170.00h1.20v1.20h-1.20zM406.75 171.07h1.20v1.20h-1.20zM410.87 164.10h1.20v1.20h-1.20zM407.77 174.23h1.20v1.20h-1.20zM409.06 172.25h1.20v1.20h-1.20zM406.49 175.43h1.20v1.20h-1.20zM412.82 171.51h1.20v1.20h-1.20zM408.71 166.78h1.20v1.20h-1.20zM411.01 172.58h1.20v1.20h-1.20zM407.18 176.86h1.20v1.20h-1.20zM410.48 174.67h1.20v1.20h-1.20zM406.15 170.99h1.20v1.20h-1.20zM411.31 166.85h1.20v1.20h-1.20zM410.29 178.24h1.20v1.20h-1.20zM411.78 169.10h1.20v1.20h-1.20zM407.50 175.72h1.20v1.20h-1.20zM410.54 177.40h1.20v1.20h-1.20zM411.72 171.79h1.20v1.20h-1.20zM409.74 163.89h1.20v1.20h-1.20zM409.51 181.80h1.20v1.20h-1.20zM408.81 169.75h1.20v1.20h-1.20zM410.40 173.66h1.20v1.20h-1.20zM407.25 168.50h1.20v1.20h-1.20zM406.12 180.22h1.20v1.20h-1.20zM407.54 175.35h1.20v1.20h-1.20zM411.11 179.22h1.20v1.20h-1.20zM407.28 170.10h1.20v1.20h-1.20zM408.20 170.47h1.20v1.20h-1.20zM411.19 166.78h1.20v1.20h-1.20zM411.14 177.79h1.20v1.20h-1.20zM407.20 180.58h1.20v1.20h-1.20zM408.76 177.47h1.20v1.20h-1.20zM410.32 169.60h1.20v1.20h-1.20zM408.75 171.30h1.20v1.20h-1.20zM410.49 172.60h1.20v1.20h-1.20zM413.96 171.70h1.20v1.20h-1.20zM408.95 168.71h1.20v1.20h-1.20zM408.80 165.56h1.20v1.20h-1.20zM407.00 175.50h1.20v1.20h-1.20zM409.62 171.19h1.20v1.20h-1.20zM409.42 176.54h1.20v1.20h-1.20zM410.10 175.36h1.20v1.20h-1.20zM408.50 170.64h1.20v1.20h-1.20zM408.00 171.28h1.20v1.20h-1.20zM408.08 170.10h1.20v1.20h-1.20zM409.20 170.93h1.20v1.20h-1.20zM409.19 169.74h1.20v1.20h-1.20zM412.07 170.79h1.20v1.20h-1.20zM407.38 172.46h1.20v1.20h-1.20zM407.99 167.04h1.20v1.20h-1.20zM410.56 164.82h1.20v1.20h-1.20zM412.35 165.06h1.20v1.20h-1.20zM407.37 174.12h1.20v1.20h-1.20zM406.18 167.65h1.20v1.20h-1.20zM407.25 170.74h1.20v1.20h-1.20zM405.15 175.19h1.20v1.20h-1.20zM408.95 173.15h1.20v1.20h-1.20zM410.05 162.78h1.20v1.20h-1.20zM409.92 166.15h1.20v1.20h-1.20zM409.93 168.27h1.20v1.20h-1.20zM408.93 170.92h1.20v1.20h-1.20zM410.39 175.37h1.20v1.20h-1.20zM407.52 171.56h1.20v1.20h-1.20zM411.85 174.39h1.20v1.20h-1.20zM408.10 171.19h1.20v1.20h-1.20z" fill="#000"/>
<path d="M406.84 162.47h1.20v1.20h-1.20zM407.45 161.23h1.20v1.20h-1.20zM405.78 156.59h1.20v1.20h-1.20zM404.85 162.29h1.20v1.20h-1.20zM407.87 163.99h1.20v1.20h-1.20zM404.24 158.46h1.20v1.20h-1.20zM409.71 162.66h1.20v1.20h-1.20zM408.82 162.32h1.20v1.20h-1.20zM407.45 160.38h1.20v1.20h-1.20zM407.45 162.25h1.20v1.20h-1.20zM407.14 161.11h1.20v1.20h-1.20zM409.73 157.92h1.20v1.20h-1.20zM406.20 161.64h1.20v1.20h-1.20zM406.98 160.05h1.20v1.20h-1.20zM410.76 161.31h1.20v1.20h-1.20zM406.73 162.82h1.20v1.20h-1.20z" fill="#000"/>
<path d="M396.50 164.50h1.00v1.00h-1.00zM398.50 167.50h1.00v1.00h-1.00zM404.50 177.50h1.00v1.00h-1.00zM403.50 181.50h1.00v1.00h-1.00zM408.50 157.50h1.00v1.00h-1.00zM395.50 159.50h1.00v1.00h-1.00zM411.50 161.50h1.00v1.00h-1.00z" fill="#000"/>
<ellipse cx="401.8" cy="218" rx="2.5" ry="5.6" transform="rotate(18 401.8 218)" fill="#000"/>
<path d="M399.86 217.39h1.20v1.20h-1.20zM397.70 224.25h1.20v1.20h-1.20zM402.58 216.38h1.20v1.20h-1.20zM402.95 215.04h1.20v1.20h-1.20zM399.99 217.40h1.20v1.20h-1.20zM400.50 222.14h1.20v1.20h-1.20zM400.46 224.23h1.20v1.20h-1.20zM401.86 218.15h1.20v1.20h-1.20zM401.89 214.47h1.20v1.20h-1.20zM405.43 214.42h1.20v1.20h-1.20zM401.54 215.58h1.20v1.20h-1.20zM402.18 209.54h1.20v1.20h-1.20zM400.36 217.63h1.20v1.20h-1.20zM400.55 220.30h1.20v1.20h-1.20zM401.60 215.17h1.20v1.20h-1.20zM401.04 219.79h1.20v1.20h-1.20zM401.21 211.81h1.20v1.20h-1.20zM398.20 220.32h1.20v1.20h-1.20zM403.96 215.04h1.20v1.20h-1.20zM400.49 220.26h1.20v1.20h-1.20zM404.31 215.99h1.20v1.20h-1.20zM399.24 221.95h1.20v1.20h-1.20zM398.65 218.22h1.20v1.20h-1.20zM400.72 217.03h1.20v1.20h-1.20zM400.52 215.41h1.20v1.20h-1.20zM399.23 223.40h1.20v1.20h-1.20zM402.00 219.23h1.20v1.20h-1.20zM402.06 214.92h1.20v1.20h-1.20zM399.45 221.39h1.20v1.20h-1.20zM400.58 224.43h1.20v1.20h-1.20zM401.69 217.49h1.20v1.20h-1.20zM397.85 217.77h1.20v1.20h-1.20zM396.44 221.47h1.20v1.20h-1.20zM400.06 217.03h1.20v1.20h-1.20zM399.30 214.96h1.20v1.20h-1.20zM398.29 220.62h1.20v1.20h-1.20zM402.92 213.62h1.20v1.20h-1.20zM397.78 216.04h1.20v1.20h-1.20zM401.52 213.42h1.20v1.20h-1.20zM402.47 217.13h1.20v1.20h-1.20zM402.04 215.50h1.20v1.20h-1.20zM400.67 215.53h1.20v1.20h-1.20zM397.62 218.55h1.20v1.20h-1.20zM403.79 211.90h1.20v1.20h-1.20zM400.14 221.30h1.20v1.20h-1.20zM400.23 221.85h1.20v1.20h-1.20zM400.71 217.25h1.20v1.20h-1.20zM399.83 213.62h1.20v1.20h-1.20zM398.87 213.35h1.20v1.20h-1.20zM401.08 219.27h1.20v1.20h-1.20zM403.16 218.52h1.20v1.20h-1.20zM398.95 218.25h1.20v1.20h-1.20zM399.01 223.25h1.20v1.20h-1.20zM403.70 221.75h1.20v1.20h-1.20zM399.71 214.98h1.20v1.20h-1.20zM402.31 215.14h1.20v1.20h-1.20zM401.40 219.99h1.20v1.20h-1.20zM402.47 218.65h1.20v1.20h-1.20zM400.51 214.08h1.20v1.20h-1.20zM399.54 221.75h1.20v1.20h-1.20zM402.99 221.58h1.20v1.20h-1.20zM401.12 219.86h1.20v1.20h-1.20zM401.29 222.18h1.20v1.20h-1.20zM404.41 212.79h1.20v1.20h-1.20zM402.51 219.24h1.20v1.20h-1.20zM399.80 218.88h1.20v1.20h-1.20zM401.78 217.39h1.20v1.20h-1.20zM398.03 216.78h1.20v1.20h-1.20zM402.26 217.57h1.20v1.20h-1.20zM397.83 217.99h1.20v1.20h-1.20zM402.30 218.42h1.20v1.20h-1.20zM402.35 216.48h1.20v1.20h-1.20zM399.44 218.76h1.20v1.20h-1.20zM400.36 217.80h1.20v1.20h-1.20zM403.20 212.08h1.20v1.20h-1.20zM400.55 219.98h1.20v1.20h-1.20zM400.18 216.19h1.20v1.20h-1.20zM396.53 217.92h1.20v1.20h-1.20zM399.38 219.33h1.20v1.20h-1.20zM403.84 217.66h1.20v1.20h-1.20zM402.71 218.81h1.20v1.20h-1.20zM401.13 216.35h1.20v1.20h-1.20zM398.27 221.17h1.20v1.20h-1.20zM403.88 214.57h1.20v1.20h-1.20zM403.51 215.47h1.20v1.20h-1.20zM397.18 220.51h1.20v1.20h-1.20zM397.61 220.59h1.20v1.20h-1.20zM400.58 220.52h1.20v1.20h-1.20zM400.88 221.54h1.20v1.20h-1.20zM401.20 219.53h1.20v1.20h-1.20zM400.47 221.19h1.20v1.20h-1.20zM399.39 220.55h1.20v1.20h-1.20zM403.99 218.07h1.20v1.20h-1.20zM402.55 215.95h1.20v1.20h-1.20zM400.40 218.10h1.20v1.20h-1.20zM401.54 214.25h1.20v1.20h-1.20zM400.94 218.02h1.20v1.20h-1.20zM401.02 219.95h1.20v1.20h-1.20zM396.47 221.06h1.20v1.20h-1.20zM401.73 214.73h1.20v1.20h-1.20zM400.05 218.65h1.20v1.20h-1.20zM403.17 216.69h1.20v1.20h-1.20zM403.21 212.18h1.20v1.20h-1.20zM401.63 217.13h1.20v1.20h-1.20zM399.46 220.10h1.20v1.20h-1.20zM403.32 221.89h1.20v1.20h-1.20zM398.14 222.03h1.20v1.20h-1.20zM400.64 217.07h1.20v1.20h-1.20zM399.66 218.58h1.20v1.20h-1.20zM402.04 218.21h1.20v1.20h-1.20z" fill="#000"/>
<path d="M412.27 226.29h1.00v1.00h-1.00zM410.07 229.94h1.00v1.00h-1.00zM411.61 225.96h1.00v1.00h-1.00zM413.25 224.21h1.00v1.00h-1.00zM414.36 221.73h1.00v1.00h-1.00zM412.52 229.28h1.00v1.00h-1.00zM409.36 232.04h1.00v1.00h-1.00zM409.83 228.08h1.00v1.00h-1.00zM414.39 225.64h1.00v1.00h-1.00zM410.55 229.81h1.00v1.00h-1.00zM412.18 228.03h1.00v1.00h-1.00zM415.18 229.16h1.00v1.00h-1.00zM410.05 222.79h1.00v1.00h-1.00zM414.51 227.40h1.00v1.00h-1.00zM413.32 219.13h1.00v1.00h-1.00zM410.80 232.47h1.00v1.00h-1.00zM413.25 218.31h1.00v1.00h-1.00zM414.44 225.65h1.00v1.00h-1.00zM412.38 225.60h1.00v1.00h-1.00zM409.85 227.60h1.00v1.00h-1.00zM413.91 229.18h1.00v1.00h-1.00zM409.64 230.00h1.00v1.00h-1.00z" fill="#000"/>
<path d="M396.50 225.50h1.00v1.00h-1.00zM399.50 226.50h1.00v1.00h-1.00zM401.50 228.50h1.00v1.00h-1.00zM404.50 227.50h1.00v1.00h-1.00zM406.50 222.50h1.00v1.00h-1.00zM397.50 220.50h1.00v1.00h-1.00zM405.50 231.50h1.00v1.00h-1.00zM403.50 230.50h1.00v1.00h-1.00z" fill="#000"/>
<ellipse cx="470.8" cy="66.5" rx="2.8" ry="4.4" transform="rotate(10 470.8 66.5)" fill="#000"/>
<path d="M469.73 67.39h1.20v1.20h-1.20zM467.34 67.25h1.20v1.20h-1.20zM471.71 70.32h1.20v1.20h-1.20zM470.21 66.98h1.20v1.20h-1.20zM468.22 68.22h1.20v1.20h-1.20zM471.93 69.59h1.20v1.20h-1.20zM470.07 60.92h1.20v1.20h-1.20zM470.34 64.64h1.20v1.20h-1.20zM467.92 67.16h1.20v1.20h-1.20zM472.84 67.26h1.20v1.20h-1.20zM473.30 67.35h1.20v1.20h-1.20zM468.00 62.86h1.20v1.20h-1.20zM468.98 67.63h1.20v1.20h-1.20zM472.92 66.34h1.20v1.20h-1.20zM473.78 63.03h1.20v1.20h-1.20zM469.16 70.59h1.20v1.20h-1.20zM471.01 69.29h1.20v1.20h-1.20zM466.11 58.62h1.20v1.20h-1.20zM467.35 68.50h1.20v1.20h-1.20zM475.37 64.05h1.20v1.20h-1.20zM468.25 61.37h1.20v1.20h-1.20zM467.55 66.91h1.20v1.20h-1.20zM468.36 71.82h1.20v1.20h-1.20zM472.86 63.37h1.20v1.20h-1.20zM471.17 64.99h1.20v1.20h-1.20zM472.07 68.97h1.20v1.20h-1.20zM468.88 68.36h1.20v1.20h-1.20zM472.06 65.39h1.20v1.20h-1.20zM470.71 67.92h1.20v1.20h-1.20zM469.93 62.90h1.20v1.20h-1.20zM473.97 66.06h1.20v1.20h-1.20zM468.45 66.73h1.20v1.20h-1.20zM466.23 64.88h1.20v1.20h-1.20zM466.85 63.25h1.20v1.20h-1.20zM465.84 62.03h1.20v1.20h-1.20zM473.03 65.22h1.20v1.20h-1.20zM465.93 70.87h1.20v1.20h-1.20zM467.73 70.28h1.20v1.20h-1.20zM469.83 60.06h1.20v1.20h-1.20zM475.85 64.83h1.20v1.20h-1.20zM471.81 69.94h1.20v1.20h-1.20zM466.68 65.02h1.20v1.20h-1.20zM468.43 67.24h1.20v1.20h-1.20zM471.15 61.01h1.20v1.20h-1.20zM470.10 68.11h1.20v1.20h-1.20zM469.24 67.23h1.20v1.20h-1.20zM468.95 64.98h1.20v1.20h-1.20zM471.30 66.09h1.20v1.20h-1.20zM473.39 69.35h1.20v1.20h-1.20zM472.33 68.35h1.20v1.20h-1.20zM471.56 61.46h1.20v1.20h-1.20zM472.32 71.99h1.20v1.20h-1.20zM471.20 64.66h1.20v1.20h-1.20zM469.57 69.60h1.20v1.20h-1.20zM471.82 62.16h1.20v1.20h-1.20zM470.40 62.68h1.20v1.20h-1.20zM470.40 62.22h1.20v1.20h-1.20zM467.06 70.14h1.20v1.20h-1.20zM474.33 60.36h1.20v1.20h-1.20zM467.95 63.40h1.20v1.20h-1.20zM470.17 60.44h1.20v1.20h-1.20zM473.88 60.28h1.20v1.20h-1.20zM471.93 68.19h1.20v1.20h-1.20zM469.79 62.98h1.20v1.20h-1.20zM470.49 65.97h1.20v1.20h-1.20zM465.32 60.05h1.20v1.20h-1.20zM471.97 65.31h1.20v1.20h-1.20zM469.86 61.78h1.20v1.20h-1.20zM468.92 62.44h1.20v1.20h-1.20zM474.41 67.85h1.20v1.20h-1.20zM470.89 66.22h1.20v1.20h-1.20zM468.37 70.82h1.20v1.20h-1.20zM471.86 65.58h1.20v1.20h-1.20zM469.95 66.06h1.20v1.20h-1.20zM467.43 63.77h1.20v1.20h-1.20zM468.30 67.27h1.20v1.20h-1.20zM473.24 59.27h1.20v1.20h-1.20zM469.19 68.75h1.20v1.20h-1.20zM467.53 60.70h1.20v1.20h-1.20zM473.29 65.48h1.20v1.20h-1.20zM469.90 61.00h1.20v1.20h-1.20zM471.23 63.59h1.20v1.20h-1.20zM470.75 67.01h1.20v1.20h-1.20zM472.58 64.66h1.20v1.20h-1.20zM468.93 65.28h1.20v1.20h-1.20zM470.04 65.98h1.20v1.20h-1.20zM469.08 64.35h1.20v1.20h-1.20zM469.14 63.11h1.20v1.20h-1.20zM470.15 69.51h1.20v1.20h-1.20zM468.57 67.19h1.20v1.20h-1.20zM471.32 65.98h1.20v1.20h-1.20zM472.65 63.83h1.20v1.20h-1.20zM471.81 66.75h1.20v1.20h-1.20zM470.90 72.51h1.20v1.20h-1.20zM467.40 65.24h1.20v1.20h-1.20zM471.99 62.24h1.20v1.20h-1.20zM473.50 67.58h1.20v1.20h-1.20zM468.92 60.88h1.20v1.20h-1.20zM467.80 73.46h1.20v1.20h-1.20zM464.92 66.85h1.20v1.20h-1.20zM470.51 63.17h1.20v1.20h-1.20zM472.05 66.06h1.20v1.20h-1.20zM471.06 66.49h1.20v1.20h-1.20zM466.57 69.46h1.20v1.20h-1.20zM468.44 69.14h1.20v1.20h-1.20zM472.33 65.91h1.20v1.20h-1.20zM470.84 65.34h1.20v1.20h-1.20zM465.46 63.39h1.20v1.20h-1.20zM472.61 60.04h1.20v1.20h-1.20zM465.58 68.45h1.20v1.20h-1.20zM473.63 60.45h1.20v1.20h-1.20zM471.74 65.49h1.20v1.20h-1.20zM473.35 64.78h1.20v1.20h-1.20zM470.25 62.71h1.20v1.20h-1.20zM471.00 65.08h1.20v1.20h-1.20zM468.79 63.90h1.20v1.20h-1.20zM467.92 67.23h1.20v1.20h-1.20zM468.48 59.50h1.20v1.20h-1.20zM467.04 68.72h1.20v1.20h-1.20zM468.59 67.43h1.20v1.20h-1.20zM472.79 64.01h1.20v1.20h-1.20zM472.23 67.56h1.20v1.20h-1.20zM470.73 62.94h1.20v1.20h-1.20zM471.03 60.92h1.20v1.20h-1.20zM470.00 63.26h1.20v1.20h-1.20zM471.43 66.84h1.20v1.20h-1.20zM468.08 68.12h1.20v1.20h-1.20zM473.73 66.24h1.20v1.20h-1.20zM468.02 66.82h1.20v1.20h-1.20zM470.82 72.70h1.20v1.20h-1.20zM467.39 70.40h1.20v1.20h-1.20zM470.33 69.06h1.20v1.20h-1.20zM470.29 63.18h1.20v1.20h-1.20zM468.84 70.56h1.20v1.20h-1.20zM472.96 64.81h1.20v1.20h-1.20zM470.95 68.64h1.20v1.20h-1.20zM472.04 65.55h1.20v1.20h-1.20zM469.01 62.49h1.20v1.20h-1.20zM469.52 63.26h1.20v1.20h-1.20zM466.82 59.67h1.20v1.20h-1.20zM473.58 61.92h1.20v1.20h-1.20zM466.73 64.61h1.20v1.20h-1.20zM473.72 70.57h1.20v1.20h-1.20zM469.88 61.58h1.20v1.20h-1.20zM469.45 61.95h1.20v1.20h-1.20zM468.55 66.83h1.20v1.20h-1.20zM467.88 62.14h1.20v1.20h-1.20zM469.69 65.19h1.20v1.20h-1.20zM468.72 62.25h1.20v1.20h-1.20z" fill="#000"/>
<path d="M467.80 59.68h1.20v1.20h-1.20zM476.01 62.20h1.20v1.20h-1.20zM473.07 59.08h1.20v1.20h-1.20zM465.19 69.20h1.20v1.20h-1.20zM469.75 63.60h1.20v1.20h-1.20zM477.29 57.29h1.20v1.20h-1.20zM482.09 59.81h1.20v1.20h-1.20zM475.17 57.68h1.20v1.20h-1.20zM475.23 63.33h1.20v1.20h-1.20zM478.80 57.66h1.20v1.20h-1.20zM473.36 72.47h1.20v1.20h-1.20zM467.46 65.16h1.20v1.20h-1.20zM475.59 60.93h1.20v1.20h-1.20zM472.07 70.46h1.20v1.20h-1.20zM479.10 66.24h1.20v1.20h-1.20zM474.74 57.75h1.20v1.20h-1.20zM473.86 72.36h1.20v1.20h-1.20zM478.66 56.62h1.20v1.20h-1.20zM474.23 60.65h1.20v1.20h-1.20zM471.87 65.12h1.20v1.20h-1.20zM477.88 64.46h1.20v1.20h-1.20zM479.66 56.29h1.20v1.20h-1.20zM475.74 65.53h1.20v1.20h-1.20zM465.96 69.66h1.20v1.20h-1.20z" fill="#000"/>
<path d="M484.50 28.50h1.00v1.00h-1.00zM486.50 29.50h1.00v1.00h-1.00zM490.50 30.50h1.00v1.00h-1.00zM491.50 27.50h1.00v1.00h-1.00zM493.50 27.50h1.00v1.00h-1.00zM494.50 28.50h1.00v1.00h-1.00zM497.50 27.00h1.00v1.00h-1.00zM499.50 27.50h1.00v1.00h-1.00zM500.50 27.30h1.00v1.00h-1.00zM497.50 30.50h1.00v1.00h-1.00zM482.50 33.50h1.00v1.00h-1.00zM493.50 45.50h1.00v1.00h-1.00zM504.50 44.50h1.00v1.00h-1.00zM477.50 48.50h1.00v1.00h-1.00zM482.50 50.50h1.00v1.00h-1.00zM494.50 54.50h1.00v1.00h-1.00zM499.50 52.50h1.00v1.00h-1.00zM501.50 51.50h1.00v1.00h-1.00zM481.50 54.50h1.00v1.00h-1.00zM489.50 57.50h1.00v1.00h-1.00zM481.50 58.50h1.00v1.00h-1.00zM482.50 62.50h1.00v1.00h-1.00zM488.50 61.50h1.00v1.00h-1.00zM497.50 57.50h1.00v1.00h-1.00zM499.50 58.00h1.00v1.00h-1.00zM477.50 61.50h1.00v1.00h-1.00zM484.50 65.50h1.00v1.00h-1.00zM492.50 68.50h1.00v1.00h-1.00zM497.50 72.50h1.00v1.00h-1.00zM474.50 67.50h1.00v1.00h-1.00zM479.50 69.50h1.00v1.00h-1.00zM476.50 71.50h1.00v1.00h-1.00z" fill="#000"/>
<ellipse cx="471.8" cy="123" rx="2.7" ry="3.2" transform="rotate(0 471.8 123)" fill="#000"/>
<path d="M467.25 118.21h1.20v1.20h-1.20zM472.38 126.34h1.20v1.20h-1.20zM474.39 119.13h1.20v1.20h-1.20zM472.66 126.47h1.20v1.20h-1.20zM470.99 122.62h1.20v1.20h-1.20zM470.19 124.53h1.20v1.20h-1.20zM469.96 120.69h1.20v1.20h-1.20zM468.21 119.70h1.20v1.20h-1.20zM471.97 123.78h1.20v1.20h-1.20zM470.39 119.35h1.20v1.20h-1.20zM472.29 123.44h1.20v1.20h-1.20zM474.73 120.96h1.20v1.20h-1.20zM470.33 123.90h1.20v1.20h-1.20zM475.39 122.26h1.20v1.20h-1.20zM471.19 119.67h1.20v1.20h-1.20zM470.42 125.16h1.20v1.20h-1.20zM473.63 125.66h1.20v1.20h-1.20zM467.11 124.85h1.20v1.20h-1.20zM468.98 124.13h1.20v1.20h-1.20zM465.21 122.12h1.20v1.20h-1.20zM469.09 126.12h1.20v1.20h-1.20zM471.72 126.20h1.20v1.20h-1.20zM470.25 128.15h1.20v1.20h-1.20zM470.24 127.94h1.20v1.20h-1.20zM470.13 119.54h1.20v1.20h-1.20zM473.75 121.24h1.20v1.20h-1.20zM471.25 118.47h1.20v1.20h-1.20zM470.50 122.74h1.20v1.20h-1.20zM469.55 123.55h1.20v1.20h-1.20zM465.38 125.02h1.20v1.20h-1.20zM470.33 126.71h1.20v1.20h-1.20zM470.48 120.48h1.20v1.20h-1.20zM470.22 123.21h1.20v1.20h-1.20zM472.97 121.05h1.20v1.20h-1.20zM469.31 123.67h1.20v1.20h-1.20zM473.57 117.29h1.20v1.20h-1.20zM468.65 120.43h1.20v1.20h-1.20zM475.89 126.01h1.20v1.20h-1.20zM473.50 123.85h1.20v1.20h-1.20zM468.46 125.70h1.20v1.20h-1.20zM470.24 120.07h1.20v1.20h-1.20zM476.49 118.16h1.20v1.20h-1.20zM475.04 123.00h1.20v1.20h-1.20zM468.98 122.93h1.20v1.20h-1.20zM469.19 122.95h1.20v1.20h-1.20zM469.71 118.92h1.20v1.20h-1.20zM474.00 122.26h1.20v1.20h-1.20zM473.19 118.70h1.20v1.20h-1.20zM474.05 123.71h1.20v1.20h-1.20zM468.31 124.86h1.20v1.20h-1.20zM472.03 125.10h1.20v1.20h-1.20zM473.02 124.67h1.20v1.20h-1.20zM471.34 121.19h1.20v1.20h-1.20zM473.28 126.04h1.20v1.20h-1.20zM468.34 119.07h1.20v1.20h-1.20zM471.30 127.69h1.20v1.20h-1.20zM470.86 117.42h1.20v1.20h-1.20zM473.54 124.63h1.20v1.20h-1.20zM476.53 122.97h1.20v1.20h-1.20zM476.60 120.29h1.20v1.20h-1.20zM473.79 122.81h1.20v1.20h-1.20zM468.27 121.60h1.20v1.20h-1.20zM474.91 125.69h1.20v1.20h-1.20zM470.42 125.67h1.20v1.20h-1.20zM473.79 125.05h1.20v1.20h-1.20zM472.17 123.31h1.20v1.20h-1.20zM469.24 122.21h1.20v1.20h-1.20zM471.74 120.25h1.20v1.20h-1.20zM470.66 122.90h1.20v1.20h-1.20zM471.98 125.51h1.20v1.20h-1.20zM468.71 121.25h1.20v1.20h-1.20zM472.12 121.30h1.20v1.20h-1.20zM472.29 121.04h1.20v1.20h-1.20zM474.52 121.74h1.20v1.20h-1.20zM468.42 124.61h1.20v1.20h-1.20zM471.07 122.62h1.20v1.20h-1.20zM474.13 126.81h1.20v1.20h-1.20zM471.00 117.84h1.20v1.20h-1.20zM473.17 125.37h1.20v1.20h-1.20zM472.64 122.65h1.20v1.20h-1.20zM468.26 118.00h1.20v1.20h-1.20zM473.98 123.26h1.20v1.20h-1.20zM473.18 123.47h1.20v1.20h-1.20zM475.85 126.60h1.20v1.20h-1.20zM469.97 125.36h1.20v1.20h-1.20zM468.32 117.42h1.20v1.20h-1.20zM474.58 121.16h1.20v1.20h-1.20zM465.77 122.36h1.20v1.20h-1.20zM469.67 123.91h1.20v1.20h-1.20zM471.27 120.16h1.20v1.20h-1.20zM469.54 124.67h1.20v1.20h-1.20zM468.98 122.80h1.20v1.20h-1.20zM468.82 123.74h1.20v1.20h-1.20zM476.10 124.09h1.20v1.20h-1.20zM474.35 123.74h1.20v1.20h-1.20zM468.89 121.54h1.20v1.20h-1.20zM471.60 123.71h1.20v1.20h-1.20zM469.83 124.22h1.20v1.20h-1.20zM469.53 122.61h1.20v1.20h-1.20zM471.39 119.05h1.20v1.20h-1.20zM474.05 122.57h1.20v1.20h-1.20zM471.70 122.33h1.20v1.20h-1.20zM469.07 125.33h1.20v1.20h-1.20zM469.90 124.20h1.20v1.20h-1.20zM468.72 119.95h1.20v1.20h-1.20zM470.19 125.52h1.20v1.20h-1.20zM467.07 121.91h1.20v1.20h-1.20zM472.48 122.82h1.20v1.20h-1.20zM471.37 124.70h1.20v1.20h-1.20zM472.17 119.47h1.20v1.20h-1.20zM473.08 120.13h1.20v1.20h-1.20zM470.53 126.67h1.20v1.20h-1.20zM472.54 120.15h1.20v1.20h-1.20zM469.42 127.29h1.20v1.20h-1.20zM472.29 118.36h1.20v1.20h-1.20zM475.54 124.12h1.20v1.20h-1.20zM474.88 123.60h1.20v1.20h-1.20zM465.76 120.27h1.20v1.20h-1.20zM471.04 121.93h1.20v1.20h-1.20zM475.38 120.46h1.20v1.20h-1.20z" fill="#000"/>
<path d="M474.94 120.20h1.20v1.20h-1.20zM474.97 116.25h1.20v1.20h-1.20zM477.11 119.61h1.20v1.20h-1.20zM476.46 116.17h1.20v1.20h-1.20zM475.45 116.50h1.20v1.20h-1.20zM470.33 121.78h1.20v1.20h-1.20zM478.64 122.77h1.20v1.20h-1.20zM475.22 118.87h1.20v1.20h-1.20zM482.47 125.44h1.20v1.20h-1.20zM472.23 116.04h1.20v1.20h-1.20zM477.30 121.71h1.20v1.20h-1.20zM470.83 129.62h1.20v1.20h-1.20zM476.65 124.42h1.20v1.20h-1.20zM466.09 118.67h1.20v1.20h-1.20zM482.67 126.09h1.20v1.20h-1.20zM474.16 120.57h1.20v1.20h-1.20zM470.97 122.02h1.20v1.20h-1.20zM470.15 112.24h1.20v1.20h-1.20zM467.76 120.65h1.20v1.20h-1.20zM468.78 124.89h1.20v1.20h-1.20zM481.90 124.44h1.20v1.20h-1.20zM478.73 125.00h1.20v1.20h-1.20zM476.77 123.92h1.20v1.20h-1.20zM477.79 123.58h1.20v1.20h-1.20zM470.31 117.77h1.20v1.20h-1.20zM470.40 123.77h1.20v1.20h-1.20zM477.98 117.25h1.20v1.20h-1.20z" fill="#000"/>
<path d="M485.50 85.80h1.00v1.00h-1.00zM487.50 85.50h1.00v1.00h-1.00zM489.50 86.00h1.00v1.00h-1.00zM491.50 85.50h1.00v1.00h-1.00zM492.50 86.00h1.00v1.00h-1.00zM494.50 85.50h1.00v1.00h-1.00zM496.50 85.80h1.00v1.00h-1.00zM498.50 85.50h1.00v1.00h-1.00zM501.50 85.80h1.00v1.00h-1.00zM482.50 87.50h1.00v1.00h-1.00zM499.50 93.50h1.00v1.00h-1.00zM479.50 98.50h1.00v1.00h-1.00zM474.50 105.50h1.00v1.00h-1.00zM489.50 109.50h1.00v1.00h-1.00zM491.50 112.50h1.00v1.00h-1.00zM493.50 115.50h1.00v1.00h-1.00zM482.50 117.50h1.00v1.00h-1.00zM486.50 120.50h1.00v1.00h-1.00zM489.50 122.50h1.00v1.00h-1.00zM484.50 126.50h1.00v1.00h-1.00zM492.50 125.50h1.00v1.00h-1.00zM499.50 126.50h1.00v1.00h-1.00zM501.50 126.50h1.00v1.00h-1.00zM497.50 130.50h1.00v1.00h-1.00zM498.50 132.50h1.00v1.00h-1.00zM500.50 133.50h1.00v1.00h-1.00zM499.50 134.50h1.00v1.00h-1.00zM479.50 118.50h1.00v1.00h-1.00zM481.50 125.50h1.00v1.00h-1.00z" fill="#000"/>
<path d="M473.09 162.52h1.20v1.20h-1.20zM476.57 166.25h1.20v1.20h-1.20zM474.97 163.18h1.20v1.20h-1.20zM471.56 169.73h1.20v1.20h-1.20zM473.41 163.54h1.20v1.20h-1.20zM477.09 169.66h1.20v1.20h-1.20zM470.06 166.98h1.20v1.20h-1.20zM470.64 165.33h1.20v1.20h-1.20zM477.44 164.97h1.20v1.20h-1.20zM472.68 164.63h1.20v1.20h-1.20zM475.16 164.12h1.20v1.20h-1.20zM469.97 169.56h1.20v1.20h-1.20zM477.26 168.30h1.20v1.20h-1.20zM472.65 162.45h1.20v1.20h-1.20zM472.96 166.41h1.20v1.20h-1.20zM478.88 166.07h1.20v1.20h-1.20zM475.43 164.42h1.20v1.20h-1.20zM475.83 163.69h1.20v1.20h-1.20zM473.39 169.16h1.20v1.20h-1.20zM474.04 164.00h1.20v1.20h-1.20zM476.78 161.91h1.20v1.20h-1.20zM480.67 164.06h1.20v1.20h-1.20zM475.02 162.49h1.20v1.20h-1.20zM478.59 166.04h1.20v1.20h-1.20zM470.22 170.04h1.20v1.20h-1.20zM475.39 163.10h1.20v1.20h-1.20zM474.08 165.96h1.20v1.20h-1.20zM473.01 163.94h1.20v1.20h-1.20zM472.76 167.17h1.20v1.20h-1.20zM474.80 168.76h1.20v1.20h-1.20zM472.84 167.50h1.20v1.20h-1.20zM472.06 168.39h1.20v1.20h-1.20zM476.01 164.77h1.20v1.20h-1.20zM479.64 162.82h1.20v1.20h-1.20zM473.49 161.94h1.20v1.20h-1.20zM476.09 161.83h1.20v1.20h-1.20zM474.72 158.59h1.20v1.20h-1.20zM475.90 163.44h1.20v1.20h-1.20zM478.13 170.46h1.20v1.20h-1.20zM469.69 167.62h1.20v1.20h-1.20zM472.91 168.58h1.20v1.20h-1.20zM470.02 167.21h1.20v1.20h-1.20zM477.57 165.71h1.20v1.20h-1.20zM473.09 163.26h1.20v1.20h-1.20zM471.13 172.49h1.20v1.20h-1.20zM476.09 171.98h1.20v1.20h-1.20zM474.44 164.23h1.20v1.20h-1.20zM475.68 165.15h1.20v1.20h-1.20zM473.68 164.24h1.20v1.20h-1.20zM476.43 166.35h1.20v1.20h-1.20zM475.37 165.01h1.20v1.20h-1.20zM474.50 164.26h1.20v1.20h-1.20zM476.89 167.73h1.20v1.20h-1.20zM478.07 166.91h1.20v1.20h-1.20zM479.04 162.97h1.20v1.20h-1.20zM473.59 164.74h1.20v1.20h-1.20zM473.15 164.28h1.20v1.20h-1.20zM472.57 163.77h1.20v1.20h-1.20zM472.90 164.55h1.20v1.20h-1.20zM475.34 162.26h1.20v1.20h-1.20zM473.43 164.98h1.20v1.20h-1.20zM471.37 164.04h1.20v1.20h-1.20zM477.60 166.43h1.20v1.20h-1.20zM474.65 167.88h1.20v1.20h-1.20zM470.47 168.07h1.20v1.20h-1.20zM480.41 166.26h1.20v1.20h-1.20zM480.62 162.29h1.20v1.20h-1.20zM476.76 167.30h1.20v1.20h-1.20zM472.83 161.46h1.20v1.20h-1.20zM473.48 161.55h1.20v1.20h-1.20z" fill="#000"/>
<path d="M470.09 180.37h1.20v1.20h-1.20zM469.80 181.32h1.20v1.20h-1.20zM469.40 180.85h1.20v1.20h-1.20zM472.96 177.18h1.20v1.20h-1.20zM466.25 178.19h1.20v1.20h-1.20zM472.36 174.85h1.20v1.20h-1.20zM469.74 180.89h1.20v1.20h-1.20zM471.65 178.30h1.20v1.20h-1.20zM466.41 182.26h1.20v1.20h-1.20zM472.45 183.12h1.20v1.20h-1.20zM466.29 184.39h1.20v1.20h-1.20zM467.16 178.78h1.20v1.20h-1.20zM469.54 176.69h1.20v1.20h-1.20zM465.65 187.08h1.20v1.20h-1.20zM468.56 182.32h1.20v1.20h-1.20zM466.79 183.93h1.20v1.20h-1.20zM470.91 177.90h1.20v1.20h-1.20zM466.53 185.07h1.20v1.20h-1.20zM466.54 184.08h1.20v1.20h-1.20zM465.07 186.70h1.20v1.20h-1.20zM468.36 182.86h1.20v1.20h-1.20zM466.73 182.67h1.20v1.20h-1.20zM471.07 175.50h1.20v1.20h-1.20zM471.78 177.04h1.20v1.20h-1.20zM470.82 184.85h1.20v1.20h-1.20zM467.69 182.62h1.20v1.20h-1.20zM466.22 181.68h1.20v1.20h-1.20zM467.34 180.96h1.20v1.20h-1.20zM472.92 175.68h1.20v1.20h-1.20zM466.54 181.38h1.20v1.20h-1.20zM467.45 175.78h1.20v1.20h-1.20zM471.35 182.24h1.20v1.20h-1.20zM467.85 180.83h1.20v1.20h-1.20zM470.49 180.13h1.20v1.20h-1.20zM466.62 187.28h1.20v1.20h-1.20zM474.98 181.54h1.20v1.20h-1.20zM468.93 185.53h1.20v1.20h-1.20zM470.68 180.52h1.20v1.20h-1.20zM469.09 185.22h1.20v1.20h-1.20zM473.53 178.57h1.20v1.20h-1.20zM471.87 180.68h1.20v1.20h-1.20zM467.45 181.08h1.20v1.20h-1.20zM469.70 182.02h1.20v1.20h-1.20zM468.02 180.97h1.20v1.20h-1.20zM467.33 181.97h1.20v1.20h-1.20zM469.34 184.20h1.20v1.20h-1.20zM466.66 177.76h1.20v1.20h-1.20zM471.31 176.72h1.20v1.20h-1.20zM470.02 180.49h1.20v1.20h-1.20zM468.34 181.72h1.20v1.20h-1.20zM472.25 180.08h1.20v1.20h-1.20zM468.61 183.38h1.20v1.20h-1.20zM467.82 178.33h1.20v1.20h-1.20zM465.32 179.75h1.20v1.20h-1.20zM471.99 178.35h1.20v1.20h-1.20zM466.84 188.51h1.20v1.20h-1.20zM469.45 180.59h1.20v1.20h-1.20zM470.90 177.36h1.20v1.20h-1.20zM469.83 181.73h1.20v1.20h-1.20zM468.01 185.89h1.20v1.20h-1.20zM468.66 181.06h1.20v1.20h-1.20zM466.50 186.33h1.20v1.20h-1.20zM465.61 178.53h1.20v1.20h-1.20zM467.26 180.03h1.20v1.20h-1.20zM470.66 181.76h1.20v1.20h-1.20zM470.23 182.00h1.20v1.20h-1.20zM468.49 177.45h1.20v1.20h-1.20zM465.37 179.35h1.20v1.20h-1.20zM466.49 182.57h1.20v1.20h-1.20zM472.70 178.94h1.20v1.20h-1.20zM465.35 180.93h1.20v1.20h-1.20zM466.54 179.96h1.20v1.20h-1.20zM470.98 180.04h1.20v1.20h-1.20zM474.34 180.35h1.20v1.20h-1.20zM470.61 179.72h1.20v1.20h-1.20zM467.50 182.06h1.20v1.20h-1.20zM469.93 177.99h1.20v1.20h-1.20zM468.29 178.83h1.20v1.20h-1.20zM471.12 180.58h1.20v1.20h-1.20zM470.15 184.75h1.20v1.20h-1.20z" fill="#000"/>
<path d="M468.99 170.91h1.20v1.20h-1.20zM474.71 175.83h1.20v1.20h-1.20zM465.37 181.06h1.20v1.20h-1.20zM472.77 166.84h1.20v1.20h-1.20zM471.54 179.25h1.20v1.20h-1.20zM466.62 171.55h1.20v1.20h-1.20zM474.33 174.07h1.20v1.20h-1.20zM469.63 173.52h1.20v1.20h-1.20zM475.04 169.58h1.20v1.20h-1.20zM480.61 165.45h1.20v1.20h-1.20zM468.49 171.12h1.20v1.20h-1.20zM468.42 163.80h1.20v1.20h-1.20zM467.80 171.55h1.20v1.20h-1.20zM468.85 171.46h1.20v1.20h-1.20zM469.23 177.90h1.20v1.20h-1.20zM480.71 165.66h1.20v1.20h-1.20zM479.02 176.01h1.20v1.20h-1.20zM476.43 161.90h1.20v1.20h-1.20zM477.76 161.66h1.20v1.20h-1.20zM474.51 170.17h1.20v1.20h-1.20zM475.72 169.28h1.20v1.20h-1.20zM474.06 176.83h1.20v1.20h-1.20zM472.61 161.36h1.20v1.20h-1.20zM477.70 172.40h1.20v1.20h-1.20zM472.79 179.73h1.20v1.20h-1.20zM475.79 170.76h1.20v1.20h-1.20zM467.04 183.31h1.20v1.20h-1.20zM471.89 170.44h1.20v1.20h-1.20zM472.73 171.19h1.20v1.20h-1.20zM480.14 167.95h1.20v1.20h-1.20zM481.22 162.11h1.20v1.20h-1.20zM469.51 162.84h1.20v1.20h-1.20zM473.10 166.42h1.20v1.20h-1.20zM466.73 175.81h1.20v1.20h-1.20zM472.72 175.10h1.20v1.20h-1.20zM474.96 169.56h1.20v1.20h-1.20zM474.69 162.70h1.20v1.20h-1.20zM475.09 165.62h1.20v1.20h-1.20zM467.33 177.24h1.20v1.20h-1.20zM467.25 182.71h1.20v1.20h-1.20zM478.19 158.02h1.20v1.20h-1.20zM475.30 172.13h1.20v1.20h-1.20zM476.98 173.53h1.20v1.20h-1.20zM477.94 174.30h1.20v1.20h-1.20zM467.22 176.90h1.20v1.20h-1.20zM468.82 170.10h1.20v1.20h-1.20zM475.08 180.00h1.20v1.20h-1.20zM469.31 169.65h1.20v1.20h-1.20zM474.59 168.69h1.20v1.20h-1.20zM467.20 181.92h1.20v1.20h-1.20zM467.71 178.96h1.20v1.20h-1.20zM471.65 174.85h1.20v1.20h-1.20zM465.09 177.82h1.20v1.20h-1.20z" fill="#000"/>
<path d="M487.82 167.27h1.20v1.20h-1.20zM478.89 169.71h1.20v1.20h-1.20zM482.82 171.22h1.20v1.20h-1.20zM484.37 168.08h1.20v1.20h-1.20zM476.85 169.95h1.20v1.20h-1.20zM482.80 165.23h1.20v1.20h-1.20zM476.43 163.83h1.20v1.20h-1.20zM484.89 167.31h1.20v1.20h-1.20zM479.85 168.12h1.20v1.20h-1.20zM482.54 167.55h1.20v1.20h-1.20zM485.37 170.96h1.20v1.20h-1.20zM481.50 172.35h1.20v1.20h-1.20zM481.89 166.23h1.20v1.20h-1.20zM483.01 164.81h1.20v1.20h-1.20zM481.19 165.74h1.20v1.20h-1.20zM480.67 168.89h1.20v1.20h-1.20zM472.57 169.38h1.20v1.20h-1.20zM483.44 167.85h1.20v1.20h-1.20zM485.26 169.26h1.20v1.20h-1.20zM480.93 165.88h1.20v1.20h-1.20zM485.32 170.29h1.20v1.20h-1.20zM476.48 166.57h1.20v1.20h-1.20zM477.65 170.47h1.20v1.20h-1.20zM480.09 165.26h1.20v1.20h-1.20zM488.43 169.53h1.20v1.20h-1.20z" fill="#000"/>
<ellipse cx="497" cy="170.5" rx="2.8" ry="3.4" transform="rotate(0 497 170.5)" fill="#000"/>
<path d="M497.10 170.72h1.20v1.20h-1.20zM495.85 170.00h1.20v1.20h-1.20zM499.08 171.40h1.20v1.20h-1.20zM495.01 170.22h1.20v1.20h-1.20zM502.02 167.99h1.20v1.20h-1.20zM492.42 170.28h1.20v1.20h-1.20zM498.26 171.88h1.20v1.20h-1.20zM497.49 176.60h1.20v1.20h-1.20zM493.32 169.71h1.20v1.20h-1.20zM491.36 174.12h1.20v1.20h-1.20zM496.15 175.91h1.20v1.20h-1.20zM495.55 166.32h1.20v1.20h-1.20zM494.26 172.62h1.20v1.20h-1.20zM493.90 170.76h1.20v1.20h-1.20zM494.20 167.44h1.20v1.20h-1.20zM494.69 175.42h1.20v1.20h-1.20zM493.14 170.97h1.20v1.20h-1.20zM498.80 167.33h1.20v1.20h-1.20zM491.84 175.00h1.20v1.20h-1.20zM501.61 169.02h1.20v1.20h-1.20zM492.76 172.84h1.20v1.20h-1.20zM496.26 167.05h1.20v1.20h-1.20zM495.21 161.69h1.20v1.20h-1.20zM493.91 165.71h1.20v1.20h-1.20zM492.39 171.86h1.20v1.20h-1.20zM497.17 175.67h1.20v1.20h-1.20zM493.82 174.40h1.20v1.20h-1.20zM499.49 170.27h1.20v1.20h-1.20zM496.64 167.28h1.20v1.20h-1.20zM494.80 168.33h1.20v1.20h-1.20zM498.58 176.99h1.20v1.20h-1.20zM500.09 171.55h1.20v1.20h-1.20zM498.88 164.06h1.20v1.20h-1.20zM493.29 172.77h1.20v1.20h-1.20zM495.20 164.30h1.20v1.20h-1.20zM496.32 165.43h1.20v1.20h-1.20zM496.35 175.21h1.20v1.20h-1.20zM492.91 168.30h1.20v1.20h-1.20zM498.02 169.75h1.20v1.20h-1.20zM496.91 166.94h1.20v1.20h-1.20zM495.32 161.66h1.20v1.20h-1.20zM495.81 174.25h1.20v1.20h-1.20zM492.95 169.20h1.20v1.20h-1.20zM498.49 174.03h1.20v1.20h-1.20zM499.87 166.79h1.20v1.20h-1.20zM495.08 175.87h1.20v1.20h-1.20zM494.93 170.82h1.20v1.20h-1.20zM493.78 167.57h1.20v1.20h-1.20zM489.67 166.34h1.20v1.20h-1.20zM493.36 174.48h1.20v1.20h-1.20zM498.66 171.21h1.20v1.20h-1.20zM494.76 165.04h1.20v1.20h-1.20zM497.79 166.97h1.20v1.20h-1.20zM495.98 173.07h1.20v1.20h-1.20zM495.75 169.73h1.20v1.20h-1.20zM493.30 173.43h1.20v1.20h-1.20zM497.94 172.26h1.20v1.20h-1.20zM501.27 164.22h1.20v1.20h-1.20zM496.40 172.03h1.20v1.20h-1.20zM497.34 170.87h1.20v1.20h-1.20zM497.74 164.54h1.20v1.20h-1.20zM496.09 173.82h1.20v1.20h-1.20zM496.16 169.14h1.20v1.20h-1.20zM498.89 163.79h1.20v1.20h-1.20zM497.53 175.05h1.20v1.20h-1.20zM495.55 166.97h1.20v1.20h-1.20zM497.92 168.25h1.20v1.20h-1.20zM493.83 170.38h1.20v1.20h-1.20zM491.27 172.12h1.20v1.20h-1.20zM492.68 167.92h1.20v1.20h-1.20zM498.53 169.70h1.20v1.20h-1.20zM497.11 174.56h1.20v1.20h-1.20zM494.65 172.98h1.20v1.20h-1.20zM491.29 172.57h1.20v1.20h-1.20zM500.29 167.31h1.20v1.20h-1.20zM497.73 172.70h1.20v1.20h-1.20zM495.83 167.62h1.20v1.20h-1.20zM500.91 165.26h1.20v1.20h-1.20zM496.82 173.10h1.20v1.20h-1.20zM497.04 175.27h1.20v1.20h-1.20zM500.83 171.43h1.20v1.20h-1.20zM501.71 172.40h1.20v1.20h-1.20zM492.58 168.69h1.20v1.20h-1.20zM497.15 170.48h1.20v1.20h-1.20zM491.57 165.92h1.20v1.20h-1.20zM497.68 170.50h1.20v1.20h-1.20zM501.00 170.59h1.20v1.20h-1.20zM497.47 172.33h1.20v1.20h-1.20zM494.10 165.35h1.20v1.20h-1.20zM494.92 173.33h1.20v1.20h-1.20zM495.46 174.13h1.20v1.20h-1.20zM494.65 172.43h1.20v1.20h-1.20zM496.42 172.73h1.20v1.20h-1.20zM496.36 170.51h1.20v1.20h-1.20zM494.91 174.13h1.20v1.20h-1.20zM496.23 171.55h1.20v1.20h-1.20zM498.32 166.75h1.20v1.20h-1.20zM493.81 169.68h1.20v1.20h-1.20zM500.21 166.19h1.20v1.20h-1.20zM493.24 166.42h1.20v1.20h-1.20zM495.15 166.15h1.20v1.20h-1.20zM493.85 171.65h1.20v1.20h-1.20zM493.03 169.80h1.20v1.20h-1.20zM492.76 169.14h1.20v1.20h-1.20zM497.92 162.93h1.20v1.20h-1.20zM496.50 170.61h1.20v1.20h-1.20zM496.16 170.72h1.20v1.20h-1.20zM497.60 165.37h1.20v1.20h-1.20zM495.97 172.06h1.20v1.20h-1.20zM500.27 165.15h1.20v1.20h-1.20zM494.54 165.13h1.20v1.20h-1.20zM496.29 166.16h1.20v1.20h-1.20zM493.36 172.49h1.20v1.20h-1.20zM501.34 166.68h1.20v1.20h-1.20zM498.42 171.05h1.20v1.20h-1.20zM500.09 169.13h1.20v1.20h-1.20zM493.83 169.63h1.20v1.20h-1.20zM498.74 166.77h1.20v1.20h-1.20zM497.59 169.82h1.20v1.20h-1.20zM496.89 169.88h1.20v1.20h-1.20zM498.18 172.61h1.20v1.20h-1.20zM495.47 168.63h1.20v1.20h-1.20zM489.84 166.82h1.20v1.20h-1.20zM491.73 172.17h1.20v1.20h-1.20zM493.08 167.45h1.20v1.20h-1.20zM497.95 173.26h1.20v1.20h-1.20zM500.04 166.92h1.20v1.20h-1.20zM497.08 173.52h1.20v1.20h-1.20zM493.78 169.07h1.20v1.20h-1.20zM492.66 167.64h1.20v1.20h-1.20zM498.50 170.17h1.20v1.20h-1.20zM495.25 167.93h1.20v1.20h-1.20zM500.96 172.44h1.20v1.20h-1.20zM495.11 169.33h1.20v1.20h-1.20zM494.87 167.89h1.20v1.20h-1.20zM498.30 164.88h1.20v1.20h-1.20zM496.45 168.73h1.20v1.20h-1.20zM501.64 171.20h1.20v1.20h-1.20zM497.68 171.66h1.20v1.20h-1.20zM498.16 170.28h1.20v1.20h-1.20zM495.39 172.27h1.20v1.20h-1.20zM497.30 167.98h1.20v1.20h-1.20zM493.66 166.37h1.20v1.20h-1.20zM497.22 169.50h1.20v1.20h-1.20zM493.68 168.61h1.20v1.20h-1.20zM497.42 167.58h1.20v1.20h-1.20zM495.98 167.78h1.20v1.20h-1.20zM496.55 172.64h1.20v1.20h-1.20zM500.30 167.38h1.20v1.20h-1.20zM498.16 170.78h1.20v1.20h-1.20zM496.60 172.70h1.20v1.20h-1.20zM499.01 165.53h1.20v1.20h-1.20zM500.83 169.26h1.20v1.20h-1.20zM494.35 167.49h1.20v1.20h-1.20zM495.69 166.02h1.20v1.20h-1.20zM499.66 171.33h1.20v1.20h-1.20zM493.65 172.69h1.20v1.20h-1.20zM497.08 170.14h1.20v1.20h-1.20zM499.27 169.55h1.20v1.20h-1.20zM495.58 171.59h1.20v1.20h-1.20zM490.84 165.76h1.20v1.20h-1.20zM497.90 173.53h1.20v1.20h-1.20zM491.29 169.91h1.20v1.20h-1.20zM494.37 168.90h1.20v1.20h-1.20zM498.18 174.97h1.20v1.20h-1.20zM501.69 173.11h1.20v1.20h-1.20zM498.30 170.36h1.20v1.20h-1.20zM490.74 171.22h1.20v1.20h-1.20zM492.77 166.06h1.20v1.20h-1.20zM496.73 164.47h1.20v1.20h-1.20z" fill="#000"/>
<path d="M481.50 144.50h1.00v1.00h-1.00zM483.50 145.00h1.00v1.00h-1.00zM486.50 144.50h1.00v1.00h-1.00zM488.50 144.30h1.00v1.00h-1.00zM491.50 144.50h1.00v1.00h-1.00zM493.50 144.70h1.00v1.00h-1.00zM495.50 144.50h1.00v1.00h-1.00zM496.50 144.30h1.00v1.00h-1.00zM501.50 144.50h1.00v1.00h-1.00zM477.50 151.50h1.00v1.00h-1.00zM489.50 153.50h1.00v1.00h-1.00zM493.50 155.50h1.00v1.00h-1.00zM497.50 153.50h1.00v1.00h-1.00zM484.50 156.50h1.00v1.00h-1.00zM489.50 160.50h1.00v1.00h-1.00zM493.50 161.50h1.00v1.00h-1.00zM486.50 169.50h1.00v1.00h-1.00zM480.50 165.50h1.00v1.00h-1.00zM483.50 171.50h1.00v1.00h-1.00zM485.50 167.50h1.00v1.00h-1.00zM482.50 177.50h1.00v1.00h-1.00zM479.50 180.50h1.00v1.00h-1.00zM469.50 189.50h1.00v1.00h-1.00zM487.50 174.50h1.00v1.00h-1.00z" fill="#000"/>
<ellipse cx="472.3" cy="237.5" rx="3.0" ry="4.8" transform="rotate(15 472.3 237.5)" fill="#000"/>
<path d="M476.09 240.43h1.20v1.20h-1.20zM472.38 238.95h1.20v1.20h-1.20zM472.47 237.28h1.20v1.20h-1.20zM474.49 234.83h1.20v1.20h-1.20zM472.45 237.69h1.20v1.20h-1.20zM475.11 233.26h1.20v1.20h-1.20zM472.69 236.55h1.20v1.20h-1.20zM473.05 239.36h1.20v1.20h-1.20zM471.92 238.74h1.20v1.20h-1.20zM471.71 242.35h1.20v1.20h-1.20zM472.17 239.11h1.20v1.20h-1.20zM469.56 235.40h1.20v1.20h-1.20zM472.91 241.40h1.20v1.20h-1.20zM469.27 236.00h1.20v1.20h-1.20zM471.09 236.87h1.20v1.20h-1.20zM471.01 234.91h1.20v1.20h-1.20zM471.59 237.29h1.20v1.20h-1.20zM475.51 234.38h1.20v1.20h-1.20zM468.48 239.14h1.20v1.20h-1.20zM473.44 236.52h1.20v1.20h-1.20zM467.69 240.01h1.20v1.20h-1.20zM467.82 240.36h1.20v1.20h-1.20zM472.71 236.48h1.20v1.20h-1.20zM470.60 239.83h1.20v1.20h-1.20zM473.67 230.30h1.20v1.20h-1.20zM472.16 228.24h1.20v1.20h-1.20zM472.03 240.65h1.20v1.20h-1.20zM476.05 232.52h1.20v1.20h-1.20zM473.60 229.27h1.20v1.20h-1.20zM468.46 240.18h1.20v1.20h-1.20zM478.04 236.33h1.20v1.20h-1.20zM467.86 231.87h1.20v1.20h-1.20zM477.08 238.24h1.20v1.20h-1.20zM472.80 240.36h1.20v1.20h-1.20zM470.79 235.76h1.20v1.20h-1.20zM472.44 235.63h1.20v1.20h-1.20zM470.98 234.29h1.20v1.20h-1.20zM469.03 241.08h1.20v1.20h-1.20zM471.93 241.01h1.20v1.20h-1.20zM470.74 240.43h1.20v1.20h-1.20zM471.91 234.44h1.20v1.20h-1.20zM473.50 235.14h1.20v1.20h-1.20zM469.91 235.08h1.20v1.20h-1.20zM472.02 236.93h1.20v1.20h-1.20zM474.30 237.59h1.20v1.20h-1.20zM471.54 235.67h1.20v1.20h-1.20zM472.20 234.11h1.20v1.20h-1.20zM467.41 236.45h1.20v1.20h-1.20zM477.68 231.05h1.20v1.20h-1.20zM469.40 237.91h1.20v1.20h-1.20zM469.50 238.36h1.20v1.20h-1.20zM472.87 232.66h1.20v1.20h-1.20zM471.82 234.75h1.20v1.20h-1.20zM471.65 242.18h1.20v1.20h-1.20zM472.05 237.86h1.20v1.20h-1.20zM470.09 237.74h1.20v1.20h-1.20zM472.78 231.91h1.20v1.20h-1.20zM472.88 237.82h1.20v1.20h-1.20zM474.57 238.61h1.20v1.20h-1.20zM475.12 232.29h1.20v1.20h-1.20zM467.40 233.34h1.20v1.20h-1.20zM470.62 237.98h1.20v1.20h-1.20zM471.69 236.13h1.20v1.20h-1.20zM471.74 237.84h1.20v1.20h-1.20zM472.11 238.20h1.20v1.20h-1.20zM470.62 236.14h1.20v1.20h-1.20zM469.02 231.57h1.20v1.20h-1.20zM470.71 238.28h1.20v1.20h-1.20zM471.26 230.99h1.20v1.20h-1.20zM475.32 234.40h1.20v1.20h-1.20zM468.20 231.94h1.20v1.20h-1.20zM469.13 242.94h1.20v1.20h-1.20zM470.70 233.21h1.20v1.20h-1.20zM474.89 238.01h1.20v1.20h-1.20zM470.23 241.91h1.20v1.20h-1.20zM468.74 235.77h1.20v1.20h-1.20zM473.05 237.98h1.20v1.20h-1.20zM469.65 232.49h1.20v1.20h-1.20zM476.80 237.79h1.20v1.20h-1.20zM470.08 240.72h1.20v1.20h-1.20zM467.09 235.35h1.20v1.20h-1.20zM465.70 240.83h1.20v1.20h-1.20zM469.09 236.56h1.20v1.20h-1.20zM469.26 236.67h1.20v1.20h-1.20zM472.73 237.12h1.20v1.20h-1.20zM470.77 237.57h1.20v1.20h-1.20zM471.74 234.78h1.20v1.20h-1.20zM472.73 240.54h1.20v1.20h-1.20zM469.24 232.09h1.20v1.20h-1.20zM469.49 237.41h1.20v1.20h-1.20zM466.52 241.70h1.20v1.20h-1.20zM471.84 237.48h1.20v1.20h-1.20zM475.00 234.68h1.20v1.20h-1.20zM472.48 238.67h1.20v1.20h-1.20zM476.44 233.85h1.20v1.20h-1.20zM475.03 240.12h1.20v1.20h-1.20zM471.49 241.07h1.20v1.20h-1.20zM471.41 235.97h1.20v1.20h-1.20zM474.51 236.16h1.20v1.20h-1.20zM473.43 242.83h1.20v1.20h-1.20zM472.30 237.71h1.20v1.20h-1.20zM471.07 232.96h1.20v1.20h-1.20zM476.82 234.04h1.20v1.20h-1.20zM471.83 238.06h1.20v1.20h-1.20zM470.16 233.68h1.20v1.20h-1.20zM467.86 244.36h1.20v1.20h-1.20zM471.50 242.39h1.20v1.20h-1.20zM476.37 242.18h1.20v1.20h-1.20zM475.90 236.20h1.20v1.20h-1.20zM468.58 241.87h1.20v1.20h-1.20zM476.88 234.14h1.20v1.20h-1.20zM474.70 238.86h1.20v1.20h-1.20zM473.09 241.13h1.20v1.20h-1.20zM477.67 235.95h1.20v1.20h-1.20zM470.65 241.68h1.20v1.20h-1.20zM470.67 238.80h1.20v1.20h-1.20zM473.42 230.50h1.20v1.20h-1.20zM469.54 239.87h1.20v1.20h-1.20zM472.00 230.78h1.20v1.20h-1.20zM470.46 236.97h1.20v1.20h-1.20zM472.91 238.56h1.20v1.20h-1.20zM474.41 233.38h1.20v1.20h-1.20zM471.07 233.65h1.20v1.20h-1.20zM470.30 238.31h1.20v1.20h-1.20zM475.76 237.06h1.20v1.20h-1.20zM473.67 241.92h1.20v1.20h-1.20zM469.66 233.09h1.20v1.20h-1.20zM473.73 231.91h1.20v1.20h-1.20zM467.84 239.04h1.20v1.20h-1.20zM469.20 239.13h1.20v1.20h-1.20zM468.21 240.26h1.20v1.20h-1.20zM469.64 239.30h1.20v1.20h-1.20zM476.16 232.10h1.20v1.20h-1.20zM471.31 229.78h1.20v1.20h-1.20zM468.02 239.66h1.20v1.20h-1.20zM471.00 240.17h1.20v1.20h-1.20zM474.74 241.93h1.20v1.20h-1.20zM474.33 235.92h1.20v1.20h-1.20zM470.58 237.94h1.20v1.20h-1.20zM473.20 241.73h1.20v1.20h-1.20zM473.05 236.15h1.20v1.20h-1.20zM470.07 243.22h1.20v1.20h-1.20zM470.69 244.76h1.20v1.20h-1.20zM469.14 239.81h1.20v1.20h-1.20zM471.77 240.06h1.20v1.20h-1.20zM469.58 237.77h1.20v1.20h-1.20zM472.06 235.95h1.20v1.20h-1.20zM470.16 230.86h1.20v1.20h-1.20zM470.50 238.86h1.20v1.20h-1.20zM472.41 238.15h1.20v1.20h-1.20zM474.19 232.22h1.20v1.20h-1.20zM474.75 238.09h1.20v1.20h-1.20zM470.48 234.46h1.20v1.20h-1.20zM474.43 238.49h1.20v1.20h-1.20zM466.25 242.43h1.20v1.20h-1.20zM475.26 233.91h1.20v1.20h-1.20zM474.05 242.69h1.20v1.20h-1.20zM474.12 240.26h1.20v1.20h-1.20zM472.62 238.11h1.20v1.20h-1.20zM470.25 237.71h1.20v1.20h-1.20z" fill="#000"/>
<path d="M481.96 235.07h1.20v1.20h-1.20zM475.76 228.21h1.20v1.20h-1.20zM466.85 236.86h1.20v1.20h-1.20zM473.98 232.84h1.20v1.20h-1.20zM470.33 234.43h1.20v1.20h-1.20zM467.54 234.63h1.20v1.20h-1.20zM472.97 229.38h1.20v1.20h-1.20zM477.66 226.34h1.20v1.20h-1.20zM477.74 236.94h1.20v1.20h-1.20zM478.23 236.26h1.20v1.20h-1.20zM479.56 234.30h1.20v1.20h-1.20zM470.21 237.49h1.20v1.20h-1.20zM471.68 233.81h1.20v1.20h-1.20zM476.20 230.98h1.20v1.20h-1.20zM480.50 227.96h1.20v1.20h-1.20zM481.70 235.45h1.20v1.20h-1.20zM484.05 241.13h1.20v1.20h-1.20zM478.97 237.06h1.20v1.20h-1.20zM476.19 228.76h1.20v1.20h-1.20zM472.83 230.93h1.20v1.20h-1.20zM472.06 234.97h1.20v1.20h-1.20zM471.65 236.30h1.20v1.20h-1.20zM474.33 233.28h1.20v1.20h-1.20zM477.55 237.92h1.20v1.20h-1.20zM468.94 234.04h1.20v1.20h-1.20zM477.90 231.20h1.20v1.20h-1.20zM480.47 243.26h1.20v1.20h-1.20zM478.50 234.95h1.20v1.20h-1.20z" fill="#000"/>
<path d="M484.50 203.50h1.00v1.00h-1.00zM488.50 202.50h1.00v1.00h-1.00zM492.50 204.50h1.00v1.00h-1.00zM496.50 203.50h1.00v1.00h-1.00zM498.50 204.00h1.00v1.00h-1.00zM499.50 203.50h1.00v1.00h-1.00zM500.50 202.50h1.00v1.00h-1.00zM501.50 203.50h1.00v1.00h-1.00zM504.50 201.50h1.00v1.00h-1.00zM485.50 208.50h1.00v1.00h-1.00zM491.50 211.50h1.00v1.00h-1.00zM490.50 215.50h1.00v1.00h-1.00zM490.50 224.50h1.00v1.00h-1.00zM495.50 221.50h1.00v1.00h-1.00zM497.50 222.50h1.00v1.00h-1.00zM499.50 223.50h1.00v1.00h-1.00zM501.50 221.50h1.00v1.00h-1.00zM496.50 225.50h1.00v1.00h-1.00zM498.50 226.50h1.00v1.00h-1.00zM500.50 227.50h1.00v1.00h-1.00zM495.50 228.50h1.00v1.00h-1.00zM502.50 229.50h1.00v1.00h-1.00zM497.50 230.50h1.00v1.00h-1.00zM503.50 235.50h1.00v1.00h-1.00zM483.50 232.50h1.00v1.00h-1.00zM485.50 236.50h1.00v1.00h-1.00zM489.50 237.50h1.00v1.00h-1.00zM483.50 241.50h1.00v1.00h-1.00zM487.50 239.50h1.00v1.00h-1.00zM499.50 247.50h1.00v1.00h-1.00z" fill="#000"/>
</g>
<text x="0.3" y="183" font-size="24.5" font-family="Liberation Sans, sans-serif" font-weight="bold" text-anchor="start" fill="#000" >C</text>
<text transform="translate(12,262) rotate(-90)" font-size="10.5" font-family="Liberation Serif, serif" fill="#111">p53 (10<tspan font-size="6.5" dy="-3.5">-3</tspan><tspan dy="3.5"> MESF)</tspan></text>
<line x1="38.8" y1="191.5" x2="157.7" y2="191.5" stroke="#888" stroke-width="1"/>
<line x1="38.8" y1="217.5" x2="157.7" y2="217.5" stroke="#888" stroke-width="1"/>
<line x1="38.8" y1="243" x2="157.7" y2="243" stroke="#888" stroke-width="1"/>
<line x1="38.8" y1="191.5" x2="38.8" y2="268.5" stroke="#999" stroke-width="1"/>
<line x1="157.7" y1="191.5" x2="157.7" y2="268.5" stroke="#ccc" stroke-width="0.8"/>
<line x1="38.8" y1="268.5" x2="157.7" y2="268.5" stroke="#888" stroke-width="1"/>
<line x1="36.8" y1="191.5" x2="38.8" y2="191.5" stroke="#888" stroke-width="1"/>
<text x="34.5" y="193.8" font-size="6.8" font-family="Liberation Serif, serif" text-anchor="end" fill="#111" class="lb">50</text>
<line x1="36.8" y1="217.5" x2="38.8" y2="217.5" stroke="#888" stroke-width="1"/>
<text x="34.5" y="219.8" font-size="6.8" font-family="Liberation Serif, serif" text-anchor="end" fill="#111" class="lb">40</text>
<line x1="36.8" y1="243" x2="38.8" y2="243" stroke="#888" stroke-width="1"/>
<text x="34.5" y="245.3" font-size="6.8" font-family="Liberation Serif, serif" text-anchor="end" fill="#111" class="lb">30</text>
<line x1="36.8" y1="268.5" x2="38.8" y2="268.5" stroke="#888" stroke-width="1"/>
<text x="34.5" y="270.8" font-size="6.8" font-family="Liberation Serif, serif" text-anchor="end" fill="#111" class="lb">20</text>
<line x1="98.4" y1="268.5" x2="98.4" y2="270.5" stroke="#888" stroke-width="1"/>
<rect x="48.6" y="250.9" width="12.5" height="17.599999999999994" fill="#e6e6e6" stroke="#999" stroke-width="1"/>
<rect x="61.6" y="241.9" width="13.8" height="26.6" fill="#000" stroke="none" stroke-width="1"/>
<rect x="75.9" y="243.5" width="12.199999999999989" height="25.0" fill="#888" stroke="#666" stroke-width="1"/>
<rect x="108.8" y="244.3" width="11.700000000000003" height="24.19999999999999" fill="#e6e6e6" stroke="#999" stroke-width="1"/>
<rect x="121" y="198.3" width="13.5" height="70.2" fill="#000" stroke="none" stroke-width="1"/>
<rect x="134.9" y="227.5" width="12.0" height="41.0" fill="#888" stroke="#666" stroke-width="1"/>
<line x1="54.9" y1="247" x2="54.9" y2="250.4" stroke="#666" stroke-width="0.9"/>
<line x1="53.6" y1="247" x2="56.199999999999996" y2="247" stroke="#666" stroke-width="0.9"/>
<line x1="53.6" y1="250.4" x2="56.199999999999996" y2="250.4" stroke="#666" stroke-width="0.9"/>
<line x1="68.6" y1="237.3" x2="68.6" y2="241.9" stroke="#666" stroke-width="0.9"/>
<line x1="67.3" y1="237.3" x2="69.89999999999999" y2="237.3" stroke="#666" stroke-width="0.9"/>
<line x1="67.3" y1="241.9" x2="69.89999999999999" y2="241.9" stroke="#666" stroke-width="0.9"/>
<line x1="82.2" y1="239" x2="82.2" y2="243" stroke="#666" stroke-width="0.9"/>
<line x1="80.9" y1="239" x2="83.5" y2="239" stroke="#666" stroke-width="0.9"/>
<line x1="80.9" y1="243" x2="83.5" y2="243" stroke="#666" stroke-width="0.9"/>
<line x1="114.6" y1="239.2" x2="114.6" y2="243.8" stroke="#666" stroke-width="0.9"/>
<line x1="113.3" y1="239.2" x2="115.89999999999999" y2="239.2" stroke="#666" stroke-width="0.9"/>
<line x1="113.3" y1="243.8" x2="115.89999999999999" y2="243.8" stroke="#666" stroke-width="0.9"/>
<line x1="127.8" y1="192" x2="127.8" y2="198.3" stroke="#666" stroke-width="0.9"/>
<line x1="126.5" y1="192" x2="129.1" y2="192" stroke="#666" stroke-width="0.9"/>
<line x1="126.5" y1="198.3" x2="129.1" y2="198.3" stroke="#666" stroke-width="0.9"/>
<line x1="141" y1="222.4" x2="141" y2="227" stroke="#666" stroke-width="0.9"/>
<line x1="139.7" y1="222.4" x2="142.3" y2="222.4" stroke="#666" stroke-width="0.9"/>
<line x1="139.7" y1="227" x2="142.3" y2="227" stroke="#666" stroke-width="0.9"/>
<text x="55" y="283.1" font-size="10.6" font-family="Liberation Serif, serif" text-anchor="start" fill="#111" >resting</text>
<text x="107.2" y="283.2" font-size="10.7" font-family="Liberation Serif, serif" text-anchor="start" fill="#111" >activated</text>
<text x="0.5" y="330.2" font-size="25" font-family="Liberation Sans, sans-serif" font-weight="bold" text-anchor="start" fill="#000" >D</text>
<line x1="34.3" y1="342.5" x2="34.3" y2="452.0" stroke="#8c8c8c" stroke-width="0.95"/>
<line x1="34.3" y1="452.0" x2="34.3" y2="453.5" stroke="#8c8c8c" stroke-width="0.95"/>
<line x1="47.46363636363636" y1="342.5" x2="47.46363636363636" y2="452.0" stroke="#8c8c8c" stroke-width="0.95"/>
<line x1="47.46363636363636" y1="452.0" x2="47.46363636363636" y2="453.5" stroke="#8c8c8c" stroke-width="0.95"/>
<line x1="60.627272727272725" y1="342.5" x2="60.627272727272725" y2="452.0" stroke="#8c8c8c" stroke-width="0.95"/>
<line x1="60.627272727272725" y1="452.0" x2="60.627272727272725" y2="453.5" stroke="#8c8c8c" stroke-width="0.95"/>
<line x1="73.79090909090908" y1="342.5" x2="73.79090909090908" y2="452.0" stroke="#8c8c8c" stroke-width="0.95"/>
<line x1="73.79090909090908" y1="452.0" x2="73.79090909090908" y2="453.5" stroke="#8c8c8c" stroke-width="0.95"/>
<line x1="86.95454545454545" y1="342.5" x2="86.95454545454545" y2="452.0" stroke="#8c8c8c" stroke-width="0.95"/>
<line x1="86.95454545454545" y1="452.0" x2="86.95454545454545" y2="453.5" stroke="#8c8c8c" stroke-width="0.95"/>
<line x1="100.11818181818181" y1="342.5" x2="100.11818181818181" y2="452.0" stroke="#8c8c8c" stroke-width="0.95"/>
<line x1="100.11818181818181" y1="452.0" x2="100.11818181818181" y2="453.5" stroke="#8c8c8c" stroke-width="0.95"/>
<line x1="113.28181818181818" y1="342.5" x2="113.28181818181818" y2="452.0" stroke="#8c8c8c" stroke-width="0.95"/>
<line x1="113.28181818181818" y1="452.0" x2="113.28181818181818" y2="453.5" stroke="#8c8c8c" stroke-width="0.95"/>
<line x1="126.44545454545455" y1="342.5" x2="126.44545454545455" y2="452.0" stroke="#8c8c8c" stroke-width="0.95"/>
<line x1="126.44545454545455" y1="452.0" x2="126.44545454545455" y2="453.5" stroke="#8c8c8c" stroke-width="0.95"/>
<line x1="139.60909090909092" y1="342.5" x2="139.60909090909092" y2="452.0" stroke="#8c8c8c" stroke-width="0.95"/>
<line x1="139.60909090909092" y1="452.0" x2="139.60909090909092" y2="453.5" stroke="#8c8c8c" stroke-width="0.95"/>
<line x1="152.77272727272728" y1="342.5" x2="152.77272727272728" y2="452.0" stroke="#8c8c8c" stroke-width="0.95"/>
<line x1="152.77272727272728" y1="452.0" x2="152.77272727272728" y2="453.5" stroke="#8c8c8c" stroke-width="0.95"/>
<line x1="165.93636363636364" y1="342.5" x2="165.93636363636364" y2="452.0" stroke="#8c8c8c" stroke-width="0.95"/>
<line x1="165.93636363636364" y1="452.0" x2="165.93636363636364" y2="453.5" stroke="#8c8c8c" stroke-width="0.95"/>
<line x1="179.10000000000002" y1="342.5" x2="179.10000000000002" y2="452.0" stroke="#8c8c8c" stroke-width="0.95"/>
<line x1="179.10000000000002" y1="452.0" x2="179.10000000000002" y2="453.5" stroke="#8c8c8c" stroke-width="0.95"/>
<line x1="34.3" y1="342.5" x2="179.1" y2="342.5" stroke="#8c8c8c" stroke-width="0.95"/>
<line x1="34.3" y1="352.45454545454544" x2="179.1" y2="352.45454545454544" stroke="#8c8c8c" stroke-width="0.95"/>
<line x1="34.3" y1="362.40909090909093" x2="179.1" y2="362.40909090909093" stroke="#8c8c8c" stroke-width="0.95"/>
<line x1="34.3" y1="372.3636363636364" x2="179.1" y2="372.3636363636364" stroke="#8c8c8c" stroke-width="0.95"/>
<line x1="34.3" y1="382.3181818181818" x2="179.1" y2="382.3181818181818" stroke="#8c8c8c" stroke-width="0.95"/>
<line x1="34.3" y1="392.27272727272725" x2="179.1" y2="392.27272727272725" stroke="#8c8c8c" stroke-width="0.95"/>
<line x1="34.3" y1="402.22727272727275" x2="179.1" y2="402.22727272727275" stroke="#8c8c8c" stroke-width="0.95"/>
<line x1="34.3" y1="412.1818181818182" x2="179.1" y2="412.1818181818182" stroke="#8c8c8c" stroke-width="0.95"/>
<line x1="34.3" y1="422.1363636363636" x2="179.1" y2="422.1363636363636" stroke="#8c8c8c" stroke-width="0.95"/>
<line x1="34.3" y1="432.0909090909091" x2="179.1" y2="432.0909090909091" stroke="#8c8c8c" stroke-width="0.95"/>
<line x1="34.3" y1="442.04545454545456" x2="179.1" y2="442.04545454545456" stroke="#8c8c8c" stroke-width="0.95"/>
<line x1="34.3" y1="452.0" x2="179.1" y2="452.0" stroke="#8c8c8c" stroke-width="0.95"/>
<text x="30.3" y="347.5" font-size="10.7" font-family="Liberation Serif, serif" text-anchor="end" fill="#111" class="lb2">3.0</text>
<text x="30.3" y="396.90000000000003" font-size="10.7" font-family="Liberation Serif, serif" text-anchor="end" fill="#111" class="lb2">2.0</text>
<text x="30.3" y="445.90000000000003" font-size="10.7" font-family="Liberation Serif, serif" text-anchor="end" fill="#111" class="lb2">1.0</text>
<text x="47.9" y="462.6" font-size="10.8" font-family="Liberation Serif, serif" text-anchor="middle" fill="#111" class="lb2">1.0</text>
<text x="114.6" y="462.6" font-size="10.8" font-family="Liberation Serif, serif" text-anchor="middle" fill="#111" class="lb2">2.0</text>
<text x="180.5" y="462.6" font-size="10.8" font-family="Liberation Serif, serif" text-anchor="middle" fill="#111" class="lb2">3.0</text>
<line x1="30.75" y1="442" x2="44.75" y2="442" stroke="#aaa" stroke-width="1"/>
<line x1="37.75" y1="437" x2="37.75" y2="447" stroke="#aaa" stroke-width="1"/>
<line x1="36.55" y1="437" x2="38.95" y2="437" stroke="#aaa" stroke-width="1"/>
<line x1="36.55" y1="447" x2="38.95" y2="447" stroke="#aaa" stroke-width="1"/>
<polygon points="37.75,438.3 41.05,442 37.75,445.7 34.45,442" fill="#777" stroke="#999" stroke-width="0.4"/>
<line x1="46.75" y1="436.75" x2="60.75" y2="436.75" stroke="#aaa" stroke-width="1"/>
<line x1="53.75" y1="431.75" x2="53.75" y2="441.75" stroke="#aaa" stroke-width="1"/>
<line x1="52.55" y1="431.75" x2="54.95" y2="431.75" stroke="#aaa" stroke-width="1"/>
<line x1="52.55" y1="441.75" x2="54.95" y2="441.75" stroke="#aaa" stroke-width="1"/>
<polygon points="53.75,433.05 57.05,436.75 53.75,440.45 50.45,436.75" fill="#777" stroke="#999" stroke-width="0.4"/>
<line x1="51.25" y1="436.75" x2="65.25" y2="436.75" stroke="#aaa" stroke-width="1"/>
<line x1="58.25" y1="431.75" x2="58.25" y2="441.75" stroke="#aaa" stroke-width="1"/>
<line x1="57.05" y1="431.75" x2="59.45" y2="431.75" stroke="#aaa" stroke-width="1"/>
<line x1="57.05" y1="441.75" x2="59.45" y2="441.75" stroke="#aaa" stroke-width="1"/>
<polygon points="58.25,433.05 61.55,436.75 58.25,440.45 54.95,436.75" fill="#777" stroke="#999" stroke-width="0.4"/>
<line x1="60" y1="422" x2="74" y2="422" stroke="#aaa" stroke-width="1"/>
<line x1="67" y1="417" x2="67" y2="427" stroke="#aaa" stroke-width="1"/>
<line x1="65.8" y1="417" x2="68.2" y2="417" stroke="#aaa" stroke-width="1"/>
<line x1="65.8" y1="427" x2="68.2" y2="427" stroke="#aaa" stroke-width="1"/>
<polygon points="67,418.3 70.3,422 67,425.7 63.7,422" fill="#777" stroke="#999" stroke-width="0.4"/>
<line x1="92.6" y1="437" x2="106.6" y2="437" stroke="#aaa" stroke-width="1"/>
<line x1="99.6" y1="432" x2="99.6" y2="442" stroke="#aaa" stroke-width="1"/>
<line x1="98.39999999999999" y1="432" x2="100.8" y2="432" stroke="#aaa" stroke-width="1"/>
<line x1="98.39999999999999" y1="442" x2="100.8" y2="442" stroke="#aaa" stroke-width="1"/>
<polygon points="99.6,433.3 102.89999999999999,437 99.6,440.7 96.3,437" fill="#777" stroke="#999" stroke-width="0.4"/>
<line x1="98.5" y1="435.8" x2="112.5" y2="435.8" stroke="#aaa" stroke-width="1"/>
<line x1="105.5" y1="430.8" x2="105.5" y2="440.8" stroke="#aaa" stroke-width="1"/>
<line x1="104.3" y1="430.8" x2="106.7" y2="430.8" stroke="#aaa" stroke-width="1"/>
<line x1="104.3" y1="440.8" x2="106.7" y2="440.8" stroke="#aaa" stroke-width="1"/>
<polygon points="105.5,432.1 108.8,435.8 105.5,439.5 102.2,435.8" fill="#777" stroke="#999" stroke-width="0.4"/>
<line x1="103.2" y1="402.3" x2="117.2" y2="402.3" stroke="#aaa" stroke-width="1"/>
<line x1="110.2" y1="397.3" x2="110.2" y2="407.3" stroke="#aaa" stroke-width="1"/>
<line x1="109.0" y1="397.3" x2="111.4" y2="397.3" stroke="#aaa" stroke-width="1"/>
<line x1="109.0" y1="407.3" x2="111.4" y2="407.3" stroke="#aaa" stroke-width="1"/>
<polygon points="110.2,398.6 113.5,402.3 110.2,406.0 106.9,402.3" fill="#777" stroke="#999" stroke-width="0.4"/>
<line x1="126.1" y1="419.5" x2="140.1" y2="419.5" stroke="#aaa" stroke-width="1"/>
<line x1="133.1" y1="414.5" x2="133.1" y2="424.5" stroke="#aaa" stroke-width="1"/>
<line x1="131.9" y1="414.5" x2="134.29999999999998" y2="414.5" stroke="#aaa" stroke-width="1"/>
<line x1="131.9" y1="424.5" x2="134.29999999999998" y2="424.5" stroke="#aaa" stroke-width="1"/>
<polygon points="133.1,415.8 136.4,419.5 133.1,423.2 129.79999999999998,419.5" fill="#777" stroke="#999" stroke-width="0.4"/>
<line x1="133.1" y1="432" x2="147.1" y2="432" stroke="#aaa" stroke-width="1"/>
<line x1="140.1" y1="427" x2="140.1" y2="437" stroke="#aaa" stroke-width="1"/>
<line x1="138.9" y1="427" x2="141.29999999999998" y2="427" stroke="#aaa" stroke-width="1"/>
<line x1="138.9" y1="437" x2="141.29999999999998" y2="437" stroke="#aaa" stroke-width="1"/>
<polygon points="140.1,428.3 143.4,432 140.1,435.7 136.79999999999998,432" fill="#777" stroke="#999" stroke-width="0.4"/>
<line x1="152.4" y1="424.8" x2="166.4" y2="424.8" stroke="#aaa" stroke-width="1"/>
<line x1="159.4" y1="419.8" x2="159.4" y2="429.8" stroke="#aaa" stroke-width="1"/>
<line x1="158.20000000000002" y1="419.8" x2="160.6" y2="419.8" stroke="#aaa" stroke-width="1"/>
<line x1="158.20000000000002" y1="429.8" x2="160.6" y2="429.8" stroke="#aaa" stroke-width="1"/>
<polygon points="159.4,421.1 162.70000000000002,424.8 159.4,428.5 156.1,424.8" fill="#777" stroke="#999" stroke-width="0.4"/>
<text font-family="Liberation Serif, serif" fill="#111"><tspan x="80.6" y="476.9" font-size="10">p53</tspan><tspan x="95.4" y="472.6" font-size="7.2" class="lb">drug</tspan><tspan x="111.4" y="476.9" font-size="10">/</tspan><tspan x="116.4" y="476.9" font-size="10">p53</tspan><tspan x="131.8" y="472.6" font-size="7.2" class="lb">med</tspan></text>
<text class="lb2" transform="translate(9.9,438) rotate(-90)" font-family="Liberation Serif, serif" fill="#111"><tspan x="0" y="0" font-size="10">p53</tspan><tspan x="14.6" y="-4.2" font-size="7" textLength="13.6" lengthAdjust="spacingAndGlyphs">drug</tspan><tspan x="30.6" y="-4.2" font-size="6.3">+NAC</tspan><tspan x="47.6" y="0" font-size="10">/</tspan><tspan x="55.5" y="0" font-size="10">p53</tspan><tspan x="74" y="-4.2" font-size="6.3">NAC</tspan></text>
</svg>
</body></html>
